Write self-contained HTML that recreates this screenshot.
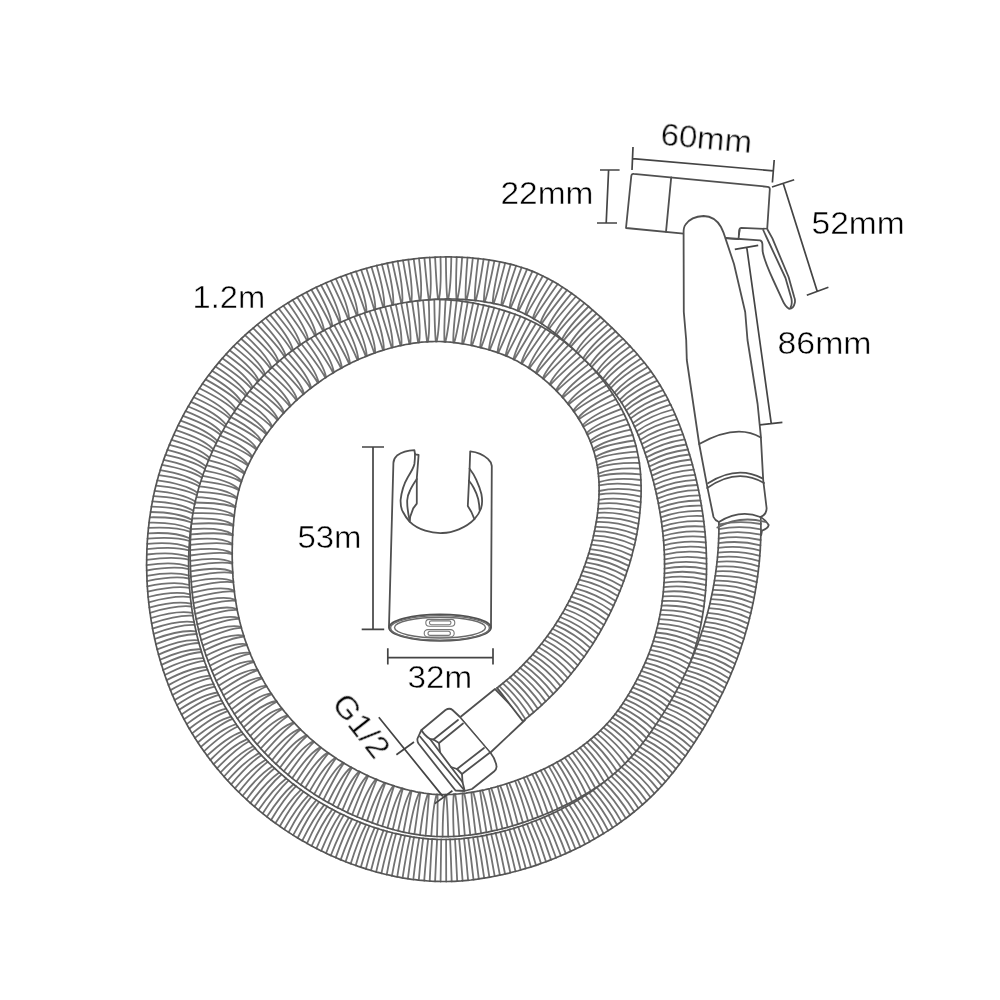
<!DOCTYPE html>
<html lang="en"><head><meta charset="utf-8"><title>Bidet sprayer dimensions</title>
<style>
html,body{margin:0;padding:0;background:#fff;}
body{width:1000px;height:1000px;overflow:hidden;}
svg{display:block;}
svg text{font-family:"Liberation Sans",sans-serif;fill:#000;stroke:#fff;stroke-width:0.45px;}
</style></head><body>
<svg width="1000" height="1000" viewBox="0 0 1000 1000">
<rect width="1000" height="1000" fill="#fff"/>
<g fill="none" stroke="#505050" stroke-width="1.8" stroke-linecap="round" stroke-linejoin="round">

<g>
<path fill="#fff" d="M417.5 738.5 L420 733 L421.5 730 L445.5 710 Q449.5 707.5 452.5 710 L460 717 L466 724 L490 752 Q495.5 759 496.5 766 Q497 769 494 771.5 L472 789 L464.5 791 L455.5 790.5 L418.5 743.5 Q417 741 417.5 738.5Z"/>
<path d="M420 736.5 L464.5 790.5"/>
<path d="M421.5 730 Q424 735 430 739 L433.5 739.5 L458 720"/>
<path d="M433.5 739.5 L439 743 L463 723.5"/>
<path d="M430 739 L439 751 L451 767 L462.5 782 L464.5 790"/>
<path d="M439 743 L440 752"/>
<path d="M451 767 L457 769 L484 748"/>
<path d="M457 769 L462 774 L490 752.5"/>
<path d="M462 774 L462.5 782"/>
<path fill="#fff" d="M461 716.5 L495 689 L525 720 L491 752"/>
</g>

<path fill="#fff" stroke="none" d="M497.1 687.9 L499.3 686.2 L501.4 684.5 L503.6 682.7 L505.7 680.9 L507.8 679.1 L509.9 677.3 L512 675.5 L514 673.6 L516 671.7 L518 669.8 L520 667.8 L522 665.9 L523.9 663.9 L525.8 661.9 L527.7 659.9 L529.6 657.8 L531.5 655.8 L533.3 653.7 L535.1 651.6 L536.9 649.4 L538.7 647.3 L540.4 645.1 L542.1 642.9 L543.8 640.7 L545.5 638.5 L547.2 636.3 L548.8 634 L550.4 631.8 L552 629.5 L553.6 627.2 L555.1 624.9 L556.6 622.5 L558.1 620.2 L559.6 617.8 L561 615.4 L562.5 613 L563.9 610.6 L565.2 608.2 L566.6 605.7 L567.9 603.3 L569.2 600.8 L570.5 598.3 L571.7 595.8 L573 593.3 L574.2 590.8 L575.4 588.3 L576.5 585.7 L577.7 583.2 L578.8 580.6 L579.9 578 L580.9 575.4 L581.9 572.8 L583 570.2 L583.9 567.6 L584.9 565 L585.8 562.4 L586.7 559.7 L587.6 557.1 L588.4 554.4 L589.3 551.8 L590 549.1 L590.8 546.4 L591.5 543.8 L592.2 541.1 L592.9 538.4 L593.5 535.7 L594.1 533 L594.7 530.3 L595.2 527.6 L595.7 524.9 L596.2 522.2 L596.7 519.5 L597.1 516.8 L597.4 514.1 L597.8 511.4 L598.1 508.7 L598.3 506 L598.5 503.3 L598.7 500.6 L598.9 497.9 L599 495.2 L599.1 492.5 L599.1 489.8 L599.1 487.1 L599.1 484.5 L599 481.9 L598.8 479.2 L598.6 476.6 L598.4 474.1 L598.1 471.5 L597.8 468.9 L597.4 466.4 L596.9 463.9 L596.5 461.5 L595.9 459 L595.3 456.5 L594.6 454.1 L593.9 451.6 L593.1 449.2 L592.3 446.8 L591.4 444.3 L590.5 441.9 L589.5 439.5 L588.5 437.2 L587.4 434.8 L586.3 432.5 L585.2 430.1 L583.9 427.8 L582.7 425.5 L581.4 423.2 L580 421 L578.6 418.7 L577.2 416.5 L575.7 414.3 L574.2 412.1 L572.7 410 L571.1 407.8 L569.5 405.7 L567.8 403.6 L566.1 401.6 L564.4 399.5 L562.6 397.5 L560.9 395.5 L559 393.6 L557.2 391.6 L555.3 389.7 L553.4 387.8 L551.4 386 L549.5 384.2 L547.5 382.4 L545.4 380.6 L543.4 378.9 L541.3 377.2 L539.2 375.5 L537.1 373.9 L535 372.3 L532.8 370.8 L530.7 369.3 L528.5 367.8 L526.3 366.4 L524 365 L521.8 363.7 L519.5 362.4 L517.2 361.1 L514.9 360 L512.6 358.8 L510.2 357.7 L507.9 356.6 L505.5 355.6 L503 354.6 L500.6 353.7 L498.1 352.8 L495.6 351.9 L493 351.1 L490.4 350.3 L487.8 349.5 L485.2 348.8 L482.6 348.1 L479.9 347.4 L477.2 346.8 L474.5 346.1 L471.9 345.5 L469.2 345 L466.5 344.5 L463.8 344 L461.1 343.6 L458.4 343.2 L455.8 342.8 L453.1 342.5 L450.5 342.2 L447.8 342 L445.2 341.8 L442.6 341.6 L440 341.5 L437.4 341.5 L434.8 341.5 L432.1 341.6 L429.5 341.7 L426.9 341.8 L424.2 342 L421.6 342.2 L418.9 342.5 L416.3 342.8 L413.6 343.2 L411 343.6 L408.3 344.1 L405.7 344.5 L403 345.1 L400.3 345.6 L397.7 346.2 L395 346.9 L392.4 347.5 L389.8 348.2 L387.2 349 L384.5 349.7 L381.9 350.6 L379.3 351.4 L376.7 352.3 L374.2 353.2 L371.6 354.1 L369 355.1 L366.5 356.1 L364 357.2 L361.4 358.2 L358.9 359.3 L356.4 360.5 L353.9 361.6 L351.5 362.8 L349 364 L346.6 365.3 L344.1 366.6 L341.7 367.9 L339.3 369.2 L336.9 370.6 L334.5 372 L332.2 373.4 L329.8 374.9 L327.5 376.4 L325.2 377.9 L322.9 379.4 L320.7 381 L318.4 382.6 L316.2 384.2 L314 385.8 L311.8 387.5 L309.6 389.2 L307.5 390.9 L305.4 392.6 L303.3 394.4 L301.2 396.2 L299.1 398 L297.1 399.9 L295 401.7 L293.1 403.6 L291.1 405.5 L289.1 407.5 L287.2 409.4 L285.3 411.4 L283.4 413.4 L281.6 415.4 L279.8 417.5 L278 419.5 L276.2 421.6 L274.5 423.7 L272.8 425.9 L271.1 428 L269.4 430.2 L267.8 432.4 L266.2 434.6 L264.6 436.8 L263.1 439.1 L261.6 441.4 L260.1 443.6 L258.6 446 L257.2 448.3 L255.8 450.6 L254.5 453 L253.1 455.3 L251.8 457.7 L250.6 460.1 L249.4 462.5 L248.2 465 L247.1 467.4 L246 469.8 L244.9 472.2 L244 474.7 L243 477.1 L242.1 479.6 L241.3 482 L240.5 484.5 L239.7 486.9 L239 489.4 L238.4 491.9 L237.8 494.5 L237.2 497.1 L236.7 499.7 L236.2 502.3 L235.7 505 L235.3 507.7 L234.9 510.4 L234.6 513.1 L234.2 515.8 L233.9 518.6 L233.7 521.4 L233.4 524.2 L233.2 527 L233 529.8 L232.8 532.7 L232.7 535.5 L232.5 538.3 L232.4 541.1 L232.3 544 L232.3 546.8 L232.2 549.6 L232.2 552.5 L232.2 555.3 L232.2 558.1 L232.3 560.9 L232.3 563.8 L232.4 566.6 L232.6 569.4 L232.7 572.2 L232.9 575 L233 577.9 L233.3 580.6 L233.5 583.4 L233.8 586.2 L234.1 589 L234.4 591.8 L234.7 594.5 L235.1 597.3 L235.5 600.1 L236 602.8 L236.4 605.5 L236.9 608.3 L237.4 611 L238 613.7 L238.6 616.4 L239.2 619.1 L239.8 621.7 L240.5 624.4 L241.2 627.1 L241.9 629.7 L242.7 632.3 L243.5 635 L244.3 637.6 L245.2 640.2 L246.1 642.8 L247 645.4 L248 647.9 L249 650.5 L250 653.1 L251 655.6 L252.1 658.1 L253.2 660.7 L254.4 663.2 L255.5 665.7 L256.7 668.1 L258 670.6 L259.2 673 L260.5 675.5 L261.8 677.9 L263.2 680.3 L264.5 682.7 L265.9 685.1 L267.3 687.4 L268.8 689.7 L270.3 692.1 L271.8 694.4 L273.3 696.6 L274.9 698.9 L276.5 701.1 L278.1 703.4 L279.7 705.6 L281.4 707.7 L283.1 709.9 L284.8 712 L286.6 714.1 L288.3 716.2 L290.1 718.3 L291.9 720.4 L293.8 722.4 L295.7 724.4 L297.6 726.4 L299.5 728.3 L301.4 730.3 L303.4 732.2 L305.4 734.1 L307.4 735.9 L309.4 737.8 L311.5 739.6 L313.6 741.4 L315.7 743.2 L317.8 744.9 L319.9 746.6 L322.1 748.3 L324.3 750 L326.5 751.6 L328.7 753.2 L331 754.8 L333.2 756.3 L335.5 757.9 L337.8 759.4 L340.1 760.8 L342.5 762.3 L344.8 763.7 L347.2 765.1 L349.6 766.4 L352 767.8 L354.5 769.1 L356.9 770.4 L359.4 771.6 L361.8 772.8 L364.3 774 L366.8 775.2 L369.4 776.4 L371.9 777.5 L374.4 778.6 L377 779.6 L379.6 780.7 L382.1 781.7 L384.7 782.7 L387.3 783.6 L390 784.5 L392.6 785.4 L395.2 786.3 L397.8 787.1 L400.4 787.9 L403 788.6 L405.6 789.4 L408.3 790 L410.9 790.7 L413.5 791.2 L416.1 791.8 L418.7 792.3 L421.3 792.7 L423.9 793.2 L426.5 793.5 L429.1 793.8 L431.7 794.1 L434.2 794.3 L436.8 794.5 L439.4 794.6 L442 794.6 L444.6 794.6 L447.2 794.6 L449.9 794.5 L452.6 794.4 L455.2 794.2 L457.9 794 L460.6 793.7 L463.3 793.4 L465.9 793.1 L468.6 792.7 L471.3 792.3 L474 791.9 L476.7 791.4 L479.4 790.9 L482 790.3 L484.7 789.8 L487.4 789.1 L490.1 788.5 L492.7 787.8 L495.4 787.1 L498.1 786.3 L500.7 785.5 L503.4 784.7 L506.1 783.9 L508.7 783 L511.4 782.1 L514 781.2 L516.6 780.3 L519.3 779.3 L520.7 778.8 L535.6 818 L534 818.6 L531 819.8 L528 820.8 L525 821.9 L521.9 822.9 L518.9 823.9 L515.8 824.9 L512.7 825.8 L509.6 826.7 L506.5 827.6 L503.4 828.4 L500.3 829.2 L497.1 830 L493.9 830.7 L490.8 831.4 L487.6 832.1 L484.4 832.7 L481.1 833.3 L477.9 833.8 L474.6 834.3 L471.4 834.8 L468.1 835.2 L464.8 835.5 L461.5 835.8 L458.2 836.1 L454.9 836.3 L451.6 836.5 L448.2 836.6 L444.9 836.6 L441.5 836.6 L438.1 836.5 L434.7 836.4 L431.3 836.2 L427.8 835.9 L424.5 835.6 L421.1 835.2 L417.7 834.7 L414.4 834.2 L411.1 833.6 L407.8 833 L404.6 832.3 L401.3 831.6 L398.1 830.8 L394.9 830 L391.7 829.1 L388.6 828.2 L385.4 827.2 L382.3 826.3 L379.2 825.3 L376.2 824.2 L373.1 823.1 L370.1 822 L367.1 820.9 L364.1 819.7 L361.1 818.5 L358.1 817.3 L355.1 816 L352.2 814.7 L349.2 813.4 L346.3 812 L343.4 810.6 L340.5 809.1 L337.6 807.7 L334.7 806.2 L331.9 804.6 L329.1 803.1 L326.2 801.5 L323.4 799.8 L320.6 798.1 L317.9 796.4 L315.1 794.7 L312.4 792.9 L309.7 791.1 L307 789.3 L304.4 787.4 L301.7 785.5 L299.1 783.6 L296.5 781.6 L293.9 779.6 L291.4 777.6 L288.9 775.5 L286.4 773.4 L283.9 771.3 L281.5 769.1 L279.1 766.9 L276.7 764.7 L274.3 762.5 L272 760.2 L269.7 757.9 L267.4 755.6 L265.1 753.2 L262.9 750.9 L260.7 748.5 L258.6 746 L256.4 743.6 L254.3 741.1 L252.3 738.6 L250.2 736 L248.2 733.5 L246.2 730.9 L244.3 728.3 L242.4 725.6 L240.5 723 L238.6 720.3 L236.8 717.6 L235 714.9 L233.3 712.1 L231.6 709.4 L229.9 706.6 L228.2 703.8 L226.6 701 L225 698.2 L223.5 695.3 L222 692.4 L220.5 689.5 L219 686.6 L217.6 683.7 L216.2 680.8 L214.9 677.8 L213.6 674.9 L212.3 671.9 L211.1 668.9 L209.9 665.8 L208.7 662.8 L207.6 659.8 L206.5 656.7 L205.4 653.6 L204.4 650.5 L203.4 647.4 L202.4 644.3 L201.5 641.2 L200.7 638.1 L199.8 634.9 L199 631.8 L198.3 628.6 L197.5 625.4 L196.9 622.3 L196.2 619.1 L195.6 615.9 L195 612.7 L194.5 609.6 L194 606.4 L193.5 603.2 L193.1 600 L192.7 596.8 L192.3 593.6 L192 590.4 L191.7 587.3 L191.4 584.1 L191.2 580.9 L190.9 577.7 L190.8 574.5 L190.6 571.3 L190.5 568.2 L190.4 565 L190.3 561.8 L190.2 558.7 L190.2 555.5 L190.2 552.3 L190.2 549.2 L190.3 546 L190.3 542.8 L190.4 539.7 L190.6 536.5 L190.7 533.3 L190.9 530.1 L191.1 527 L191.3 523.8 L191.6 520.6 L191.9 517.5 L192.2 514.3 L192.5 511.1 L192.9 507.9 L193.3 504.7 L193.8 501.4 L194.3 498.2 L194.8 494.9 L195.4 491.7 L196.1 488.4 L196.8 485.1 L197.6 481.8 L198.5 478.5 L199.4 475.3 L200.4 472 L201.4 468.7 L202.5 465.5 L203.7 462.3 L204.9 459.2 L206.2 456 L207.5 453 L208.9 449.9 L210.3 446.9 L211.7 443.9 L213.2 441 L214.8 438 L216.3 435.2 L217.9 432.3 L219.5 429.4 L221.2 426.6 L222.9 423.8 L224.7 421.1 L226.4 418.3 L228.3 415.6 L230.1 412.9 L232 410.2 L233.9 407.6 L235.9 404.9 L237.8 402.3 L239.9 399.8 L241.9 397.2 L244 394.7 L246.1 392.2 L248.2 389.8 L250.4 387.3 L252.6 384.9 L254.8 382.5 L257.1 380.2 L259.3 377.9 L261.7 375.6 L264 373.3 L266.4 371.1 L268.7 368.8 L271.2 366.7 L273.6 364.5 L276.1 362.4 L278.5 360.3 L281.1 358.3 L283.6 356.2 L286.2 354.2 L288.7 352.3 L291.4 350.3 L294 348.4 L296.6 346.5 L299.3 344.7 L302 342.9 L304.7 341.1 L307.5 339.4 L310.2 337.6 L313 336 L315.8 334.3 L318.6 332.7 L321.4 331.1 L324.3 329.6 L327.2 328 L330.1 326.6 L333 325.1 L335.9 323.7 L338.8 322.3 L341.8 321 L344.8 319.7 L347.8 318.4 L350.8 317.2 L353.8 316 L356.9 314.8 L359.9 313.7 L363 312.6 L366.1 311.5 L369.2 310.5 L372.4 309.6 L375.5 308.6 L378.6 307.7 L381.8 306.9 L385 306.1 L388.2 305.3 L391.4 304.6 L394.6 303.9 L397.8 303.3 L401.1 302.7 L404.3 302.1 L407.6 301.6 L410.9 301.2 L414.2 300.8 L417.5 300.4 L420.8 300.1 L424.2 299.9 L427.5 299.7 L430.9 299.6 L434.3 299.5 L437.7 299.5 L441.1 299.6 L444.4 299.7 L447.8 299.9 L451.2 300.1 L454.5 300.4 L457.8 300.7 L461.1 301.1 L464.4 301.6 L467.7 302.1 L470.9 302.6 L474.1 303.2 L477.3 303.8 L480.5 304.5 L483.7 305.1 L486.9 305.9 L490 306.6 L493.2 307.4 L496.3 308.3 L499.5 309.2 L502.6 310.1 L505.8 311.1 L508.9 312.1 L512.1 313.2 L515.2 314.3 L518.4 315.5 L521.5 316.8 L524.6 318.1 L527.7 319.5 L530.8 321 L533.9 322.5 L536.9 324 L539.9 325.7 L542.8 327.3 L545.7 329.1 L548.6 330.8 L551.5 332.7 L554.3 334.5 L557 336.4 L559.7 338.4 L562.4 340.4 L565.1 342.4 L567.7 344.5 L570.3 346.6 L572.8 348.7 L575.3 350.9 L577.8 353.1 L580.2 355.4 L582.6 357.7 L584.9 360 L587.3 362.4 L589.6 364.7 L591.8 367.2 L594.1 369.6 L596.2 372.2 L598.4 374.7 L600.5 377.3 L602.6 379.9 L604.6 382.5 L606.6 385.2 L608.6 387.9 L610.5 390.7 L612.3 393.5 L614.1 396.3 L615.9 399.2 L617.6 402.1 L619.3 405 L620.9 407.9 L622.5 410.9 L624 414 L625.5 417 L626.9 420.1 L628.3 423.3 L629.6 426.4 L630.8 429.6 L632 432.9 L633.1 436.1 L634.1 439.4 L635.1 442.7 L636 446 L636.8 449.4 L637.5 452.8 L638.2 456.2 L638.8 459.6 L639.4 463 L639.8 466.4 L640.2 469.8 L640.5 473.2 L640.7 476.6 L640.9 480 L641 483.3 L641.1 486.7 L641.1 490 L641.1 493.3 L641 496.6 L640.8 499.9 L640.7 503.2 L640.4 506.5 L640.1 509.8 L639.8 513 L639.5 516.3 L639.1 519.5 L638.6 522.8 L638.2 526 L637.6 529.2 L637.1 532.4 L636.5 535.6 L635.8 538.8 L635.2 542 L634.5 545.2 L633.7 548.3 L632.9 551.4 L632.1 554.6 L631.3 557.7 L630.4 560.8 L629.5 563.9 L628.5 567 L627.5 570 L626.5 573.1 L625.5 576.1 L624.4 579.2 L623.3 582.2 L622.2 585.2 L621 588.2 L619.9 591.1 L618.6 594.1 L617.4 597.1 L616.1 600 L614.8 602.9 L613.5 605.8 L612.2 608.7 L610.8 611.6 L609.4 614.5 L607.9 617.4 L606.4 620.2 L605 623.1 L603.4 625.9 L601.9 628.7 L600.3 631.5 L598.7 634.3 L597 637 L595.4 639.8 L593.7 642.5 L592 645.2 L590.2 647.9 L588.4 650.6 L586.6 653.2 L584.8 655.9 L582.9 658.5 L581 661.1 L579.1 663.7 L577.2 666.3 L575.2 668.8 L573.2 671.3 L571.2 673.8 L569.2 676.3 L567.1 678.8 L565 681.2 L562.8 683.7 L560.7 686.1 L558.5 688.4 L556.3 690.8 L554.1 693.1 L551.8 695.4 L549.5 697.7 L547.2 700 L544.9 702.2 L542.5 704.4 L540.2 706.6 L537.8 708.7 L535.3 710.9 L532.9 713 L530.4 715 L527.9 717.1 L525.4 719.1 L522.8 721.1Z"/>
<path stroke="#727272" stroke-width="1.8" d="M525.4 719.1Q514.4 701 499.3 686.2M529.6 715.7Q518.3 697.8 502.9 683.3M533.7 712.3Q522.1 694.5 506.4 680.3M537.8 708.7Q525.9 691.2 509.9 677.3M541.7 705.1Q529.6 687.7 513.3 674.2M545.7 701.4Q533.3 684.2 516.7 671.1M549.5 697.7Q536.9 680.7 520 667.8M553.3 693.9Q540.4 677.1 523.3 664.6M557 690Q543.8 673.4 526.5 661.2M560.7 686.1Q547.2 669.6 529.6 657.8M564.3 682Q550.6 665.8 532.7 654.4M567.8 678Q553.8 662 535.7 650.9M571.2 673.8Q557 658 538.7 647.3M574.6 669.7Q560.1 654.1 541.6 643.7M577.8 665.4Q563.1 650 544.4 640M581 661.1Q566.1 646 547.2 636.3M584.2 656.8Q569 641.8 549.9 632.5M587.2 652.4Q571.8 637.7 552.5 628.7M590.2 647.9Q574.6 633.4 555.1 624.9M593.1 643.4Q577.3 629.2 557.6 620.9M595.9 638.9Q579.9 624.9 560.1 617M598.7 634.3Q582.4 620.5 562.5 613M601.3 629.6Q584.9 616.1 564.8 609M603.9 625Q587.2 611.7 567 604.9M606.4 620.2Q589.6 607.2 569.2 600.8M608.9 615.5Q591.8 602.7 571.3 596.7M611.2 610.7Q594 598.2 573.4 592.5M613.5 605.8Q596 593.6 575.4 588.3M615.7 601Q598 589 577.3 584M617.8 596.1Q600 584.3 579.1 579.7M619.9 591.1Q601.8 579.7 580.9 575.4M621.8 586.2Q603.6 575 582.6 571.1M623.7 581.2Q605.3 570.2 584.3 566.7M625.5 576.1Q607 565.5 585.8 562.4M627.2 571.1Q608.5 560.7 587.3 558M628.8 565.9Q610 555.9 588.7 553.5M630.4 560.8Q611.3 551.1 590 549.1M631.8 555.6Q612.6 546.2 591.3 544.7M633.2 550.4Q613.8 541.3 592.4 540.2M634.5 545.2Q614.9 536.4 593.5 535.7M635.6 539.9Q615.6 531.4 594.5 531.2M636.7 534.6Q616.5 526.5 595.4 526.8M637.6 529.2Q616.5 521.4 596.3 522M638.5 523.8Q617.2 516.6 596.9 517.8M639.2 518.5Q617 511.3 597.6 512.8M639.8 513Q617.5 506.6 598 508.9M640.3 507.6Q617.1 501.3 598.5 503.7M640.7 502.1Q617.3 496.6 598.8 499.9M641 496.6Q616.7 491.4 599 494.5M641.1 491.1Q616.7 486.8 599.1 491M641.1 485.6Q615.8 481.6 599.1 485.4M640.9 480Q615.5 477 599 482.2M640.6 474.3Q614.3 471.9 598.6 476.5M640.1 468.7Q613.7 467.4 598.3 473.6M639.4 463Q612.2 462.5 597.6 467.9M638.4 457.3Q611.3 458.1 597.2 465.2M637.3 451.6Q609.4 453.4 596 459.4M636 446Q608.3 449.1 595.4 457M634.4 440.5Q606.1 444.5 593.8 451.1M632.7 435Q604.6 440.3 593.1 448.9M630.8 429.6Q602.1 436 590.9 442.9M628.7 424.3Q600.4 431.9 590.1 440.9M626.5 419.1Q597.7 427.8 587.5 434.8M624 414Q595.6 423.7 586.6 433.1M621.5 408.9Q592.8 419.9 583.5 426.9M618.8 404Q590.5 415.9 582.6 425.4M615.9 399.2Q588 411.9 579 419.3M612.9 394.4Q585.5 408 578.2 418M609.8 389.8Q582.8 404.2 574 411.8M606.6 385.2Q580 400.4 573.2 410.7M603.3 380.8Q577.1 396.7 568.6 404.7M599.8 376.4Q574.2 393.1 567.9 403.7M596.2 372.2Q571.1 389.6 562.8 397.8M592.6 368Q567.9 386.1 562.1 397M588.8 363.9Q564.7 382.8 556.7 391.2M584.9 360Q561.3 379.5 556 390.5M581 356.1Q557.9 376.2 550.3 384.9M576.9 352.4Q554.4 373.1 549.6 384.3M572.8 348.7Q550.9 370.1 543.5 379M568.5 345.2Q547.2 367.1 542.8 378.4M564.2 341.7Q543.6 364.3 536.5 373.5M559.7 338.4Q539.8 361.5 535.8 372.9M555.2 335.2Q536 358.9 529.3 368.4M550.5 332Q532.1 356.4 528.6 367.9M545.7 329.1Q528.1 354 521.9 363.8M540.9 326.2Q524.1 351.7 521.2 363.3M535.9 323.5Q520.1 349.6 514.3 359.6M530.8 321Q516 347.6 513.5 359.3M525.7 318.6Q511.8 345.7 506.4 356M520.5 316.4Q507.5 344 505.6 355.7M515.2 314.3Q503.2 342.4 498.2 352.9M510 312.5Q498.8 340.8 497.4 352.6M504.7 310.7Q494.4 339.4 489.7 350.1M499.5 309.2Q489.9 338.1 488.9 349.8M494.2 307.7Q485.4 336.9 481 347.7M489 306.4Q480.8 335.7 480.1 347.4M483.7 305.1Q476.2 334.7 472 345.6M478.4 304Q471.5 333.7 471.1 345.4M473.1 303Q466.9 332.8 463.1 343.9M467.7 302.1Q462.3 332 462.2 343.7M462.2 301.3Q457.6 331.4 454.2 342.6M456.7 300.6Q453 330.8 453.3 342.5M451.2 300.1Q448.4 330.4 445.4 341.8M445.6 299.7Q443.8 330.1 444.5 341.7M439.9 299.5Q439.3 330 436.7 341.5M434.3 299.5Q434.7 330 435.8 341.5M428.7 299.7Q430.1 330.1 427.9 341.7M423.1 300Q425.5 330.3 427.1 341.8M417.5 300.4Q420.9 330.7 419.1 342.5M412 301Q416.3 331.2 418.2 342.6M406.5 301.8Q411.6 331.8 410.3 343.7M401.1 302.7Q407 332.6 409.4 343.9M395.7 303.7Q402.4 333.4 401.4 345.4M390.3 304.8Q397.8 334.4 400.5 345.6M385 306.1Q393.3 335.4 392.6 347.5M379.7 307.4Q388.7 336.6 391.7 347.7M374.4 308.9Q384.2 337.8 383.8 350M369.2 310.5Q379.7 339.2 383 350.2M364.1 312.2Q375.2 340.6 375.2 352.8M358.9 314Q370.7 342.2 374.3 353.1M353.8 316Q366.3 343.8 366.7 356M348.8 318Q361.9 345.5 365.8 356.4M343.8 320.1Q357.5 347.3 358.3 359.6M338.8 322.3Q353.2 349.2 357.4 360M333.9 324.6Q348.9 351.2 350 363.6M329.1 327Q344.6 353.3 349.2 364M324.3 329.6Q340.4 355.5 341.9 367.8M319.5 332.2Q336.2 357.7 341.1 368.3M314.9 334.9Q332.1 360 333.9 372.4M310.2 337.6Q328 362.4 333.1 372.9M305.6 340.5Q324 364.9 326.1 377.3M301.1 343.5Q320 367.5 325.4 377.8M296.6 346.5Q316 370.1 318.6 382.5M292.2 349.7Q312.1 372.8 317.8 383M287.9 352.9Q308.3 375.6 311.2 387.9M283.6 356.2Q304.5 378.5 310.5 388.5M279.4 359.6Q300.8 381.4 304.1 393.7M275.2 363.1Q297.1 384.5 303.4 394.3M271.2 366.7Q293.5 387.5 297.2 399.7M267.1 370.3Q290 390.7 296.5 400.4M263.2 374Q286.5 393.9 290.6 406M259.3 377.9Q283 397.2 289.9 406.7M255.6 381.7Q279.7 400.6 284.2 412.6M251.9 385.7Q276.4 404 283.6 413.3M248.2 389.8Q273.2 407.5 278.1 419.4M244.7 393.9Q270 411 277.5 420.1M241.2 398.1Q267 414.7 272.3 426.4M237.8 402.3Q264 418.3 271.7 427.2M234.6 406.7Q261 422.1 266.8 433.7M231.4 411.1Q258.2 425.9 266.3 434.5M228.3 415.6Q255.4 429.7 261.7 441.2M225.3 420.1Q252.8 433.7 261.2 442M222.3 424.8Q250.2 437.6 256.8 448.9M219.5 429.4Q247.7 441.7 256.4 449.7M216.8 434.2Q245.3 445.7 252.4 456.8M214.2 439Q242.9 449.9 251.9 457.6M211.7 443.9Q240.7 454 248.3 464.8M209.4 448.9Q238.6 458.3 247.9 465.6M207.1 454Q236.6 462.5 244.7 472.9M204.9 459.2Q234.7 466.8 244.3 473.7M202.9 464.4Q232.9 471.1 241.6 481M201.1 469.8Q231.3 475.5 241.3 481.9M199.4 475.3Q229.8 479.9 239.1 489.3M197.9 480.7Q228.4 484.3 238.9 490.1M196.6 486.2Q227.2 488.8 237.1 497.8M195.4 491.7Q226.1 493.4 236.9 498.6M194.5 497.1Q225.2 498.1 235.5 506.6M193.6 502.5Q224.4 502.8 235.3 507.5M192.9 507.9Q223.6 507.5 234.3 515.7M192.3 513.2Q223 512.3 234.2 516.6M191.8 518.5Q222.5 517.1 233.4 525M191.3 523.8Q222 522 233.3 525.9M190.9 529.1Q221.6 526.8 232.7 534.4M190.7 534.4Q221.3 531.7 232.7 535.3M190.4 539.7Q221 536.5 232.3 543.8M190.3 544.9Q220.8 541.4 232.3 544.7M190.2 550.2Q220.7 546.3 232.2 553.2M190.2 555.5Q220.6 551.1 232.2 554.1M190.3 560.8Q220.6 556 232.3 562.6M190.4 566.1Q220.7 560.9 232.3 563.6M190.6 571.3Q220.8 565.8 232.7 572.1M190.9 576.6Q221 570.6 232.7 573M191.2 581.9Q221.3 575.5 233.3 581.4M191.7 587.3Q221.6 580.3 233.4 582.3M192.2 592.6Q222 585.2 234.3 590.7M192.8 597.9Q222.5 590 234.4 591.6M193.5 603.2Q223.1 594.8 235.5 599.9M194.3 608.5Q223.7 599.6 235.6 600.8M195.2 613.8Q224.5 604.4 237 609M196.2 619.1Q225.3 609.2 237.2 609.9M197.3 624.4Q226.2 613.9 238.9 618M198.5 629.7Q227.2 618.6 239.1 618.9M199.8 634.9Q228.3 623.4 241.1 626.9M201.2 640.2Q229.5 628 241.4 627.8M202.8 645.4Q230.7 632.7 243.7 635.7M204.4 650.5Q232.1 637.3 244 636.5M206.1 655.7Q233.6 642 246.6 644.3M207.9 660.8Q235.1 646.5 246.9 645.2M209.9 665.8Q236.8 651.1 249.9 652.9M211.9 670.9Q238.5 655.6 250.3 653.7M214 675.8Q240.4 660.1 253.5 661.3M216.2 680.8Q242.3 664.5 253.9 662.2M218.6 685.7Q244.3 669 257.5 669.6M221 690.5Q246.4 673.3 257.9 670.4M223.5 695.3Q248.6 677.7 261.7 677.7M226.1 700.1Q250.8 682 262.2 678.5M228.8 704.7Q253.2 686.2 266.3 685.7M231.6 709.4Q255.6 690.4 266.8 686.5M234.4 714Q258.2 694.6 271.2 693.4M237.4 718.5Q260.8 698.7 271.7 694.2M240.5 723Q263.4 702.7 276.4 701M243.6 727.4Q266.2 706.7 276.9 701.7M246.9 731.7Q269.1 710.6 281.8 708.3M250.2 736Q272 714.5 282.4 709M253.6 740.2Q275 718.3 287.6 715.4M257.1 744.4Q278.1 722.1 288.2 716.1M260.7 748.5Q281.3 725.8 293.7 722.3M264.4 752.5Q284.5 729.4 294.3 722.9M268.1 756.4Q287.8 733 300 728.9M272 760.2Q291.2 736.4 300.6 729.5M275.9 764Q294.7 739.9 306.6 735.2M279.9 767.7Q298.2 743.2 307.3 735.8M283.9 771.3Q301.8 746.5 313.4 741.3M288 774.8Q305.5 749.7 314.1 741.9M292.2 778.2Q309.2 752.8 320.5 747.1M296.5 781.6Q313 755.9 321.2 747.6M300.8 784.8Q316.9 758.9 327.8 752.6M305.2 788Q320.8 761.8 328.6 753.1M309.7 791.1Q324.8 764.6 335.4 757.8M314.2 794.1Q328.9 767.3 336.1 758.3M318.8 797Q333 770 343.1 762.6M323.4 799.8Q337.1 772.5 343.9 763.1M328.1 802.5Q341.3 775 351.1 767.2M332.8 805.1Q345.6 777.4 351.9 767.7M337.6 807.7Q349.9 779.7 359.2 771.5M342.4 810.1Q354.2 782 360 771.9M347.3 812.4Q358.6 784.1 367.5 775.5M352.2 814.7Q363.1 786.2 368.3 775.9M357.1 816.8Q367.5 788.2 376 779.2M362.1 818.9Q372.1 790.1 376.8 779.6M367.1 820.9Q376.6 791.9 384.6 782.6M372.1 822.8Q381.2 793.7 385.4 782.9M377.2 824.6Q385.8 795.3 393.3 785.7M382.3 826.3Q390.4 796.9 394.1 785.9M387.5 827.9Q395.1 798.4 402 788.3M392.8 829.4Q399.8 799.7 402.9 788.6M398.1 830.8Q404.5 801 410.7 790.6M403.5 832Q409.2 802.1 411.6 790.8M408.9 833.2Q414 803.1 419.4 792.4M414.4 834.2Q418.7 804 420.3 792.6M420 835Q423.5 804.8 428 793.7M425.6 835.7Q428.3 805.4 428.9 793.8M431.3 836.2Q433.1 805.8 436.6 794.4M437 836.5Q437.9 806.1 437.5 794.5M442.6 836.6Q442.8 806.2 445.2 794.6M448.2 836.6Q447.6 806.1 446.2 794.6M453.8 836.4Q452.5 805.9 453.8 794.3M459.3 836Q457.3 805.6 455.2 794.2M464.8 835.5Q462.2 805.2 462.6 793.5M470.3 834.9Q467 804.6 464.2 793.3M475.7 834.1Q471.9 804.1 471.4 792.3M481.1 833.3Q476.7 803.4 473.2 792M486.5 832.3Q481.7 803.2 480.1 790.7M491.8 831.2Q486.4 802.2 482.2 790.3M497.1 830Q491.6 801.8 488.9 788.8M502.4 828.7Q496.1 800.7 491.2 788.2M507.6 827.3Q501.3 800 497.7 786.4M512.7 825.8Q505.8 798.7 500.2 785.7M517.9 824.2Q511.1 797.9 506.4 783.8M522.9 822.6Q515.5 796.4 509.1 782.9M528 820.8Q520.7 795.4 515.1 780.8M533 819Q525.1 793.8 517.9 779.8"/>
<path stroke="#555" stroke-width="1.7" d="M497.1 687.9 L499.3 686.2 L501.4 684.5 L503.6 682.7 L505.7 680.9 L507.8 679.1 L509.9 677.3 L512 675.5 L514 673.6 L516 671.7 L518 669.8 L520 667.8 L522 665.9 L523.9 663.9 L525.8 661.9 L527.7 659.9 L529.6 657.8 L531.5 655.8 L533.3 653.7 L535.1 651.6 L536.9 649.4 L538.7 647.3 L540.4 645.1 L542.1 642.9 L543.8 640.7 L545.5 638.5 L547.2 636.3 L548.8 634 L550.4 631.8 L552 629.5 L553.6 627.2 L555.1 624.9 L556.6 622.5 L558.1 620.2 L559.6 617.8 L561 615.4 L562.5 613 L563.9 610.6 L565.2 608.2 L566.6 605.7 L567.9 603.3 L569.2 600.8 L570.5 598.3 L571.7 595.8 L573 593.3 L574.2 590.8 L575.4 588.3 L576.5 585.7 L577.7 583.2 L578.8 580.6 L579.9 578 L580.9 575.4 L581.9 572.8 L583 570.2 L583.9 567.6 L584.9 565 L585.8 562.4 L586.7 559.7 L587.6 557.1 L588.4 554.4 L589.3 551.8 L590 549.1 L590.8 546.4 L591.5 543.8 L592.2 541.1 L592.9 538.4 L593.5 535.7 L594.1 533 L594.7 530.3 L595.2 527.6 L595.7 524.9 L596.2 522.2 L596.7 519.5 L597.1 516.8 L597.4 514.1 L597.8 511.4 L598.1 508.7 L598.3 506 L598.5 503.3 L598.7 500.6 L598.9 497.9 L599 495.2 L599.1 492.5 L599.1 489.8 L599.1 487.1 L599.1 484.5 L599 481.9 L598.8 479.2 L598.6 476.6 L598.4 474.1 L598.1 471.5 L597.8 468.9 L597.4 466.4 L596.9 463.9 L596.5 461.5 L595.9 459 L595.3 456.5 L594.6 454.1 L593.9 451.6 L593.1 449.2 L592.3 446.8 L591.4 444.3 L590.5 441.9 L589.5 439.5 L588.5 437.2 L587.4 434.8 L586.3 432.5 L585.2 430.1 L583.9 427.8 L582.7 425.5 L581.4 423.2 L580 421 L578.6 418.7 L577.2 416.5 L575.7 414.3 L574.2 412.1 L572.7 410 L571.1 407.8 L569.5 405.7 L567.8 403.6 L566.1 401.6 L564.4 399.5 L562.6 397.5 L560.9 395.5 L559 393.6 L557.2 391.6 L555.3 389.7 L553.4 387.8 L551.4 386 L549.5 384.2 L547.5 382.4 L545.4 380.6 L543.4 378.9 L541.3 377.2 L539.2 375.5 L537.1 373.9 L535 372.3 L532.8 370.8 L530.7 369.3 L528.5 367.8 L526.3 366.4 L524 365 L521.8 363.7 L519.5 362.4 L517.2 361.1 L514.9 360 L512.6 358.8 L510.2 357.7 L507.9 356.6 L505.5 355.6 L503 354.6 L500.6 353.7 L498.1 352.8 L495.6 351.9 L493 351.1 L490.4 350.3 L487.8 349.5 L485.2 348.8 L482.6 348.1 L479.9 347.4 L477.2 346.8 L474.5 346.1 L471.9 345.5 L469.2 345 L466.5 344.5 L463.8 344 L461.1 343.6 L458.4 343.2 L455.8 342.8 L453.1 342.5 L450.5 342.2 L447.8 342 L445.2 341.8 L442.6 341.6 L440 341.5 L437.4 341.5 L434.8 341.5 L432.1 341.6 L429.5 341.7 L426.9 341.8 L424.2 342 L421.6 342.2 L418.9 342.5 L416.3 342.8 L413.6 343.2 L411 343.6 L408.3 344.1 L405.7 344.5 L403 345.1 L400.3 345.6 L397.7 346.2 L395 346.9 L392.4 347.5 L389.8 348.2 L387.2 349 L384.5 349.7 L381.9 350.6 L379.3 351.4 L376.7 352.3 L374.2 353.2 L371.6 354.1 L369 355.1 L366.5 356.1 L364 357.2 L361.4 358.2 L358.9 359.3 L356.4 360.5 L353.9 361.6 L351.5 362.8 L349 364 L346.6 365.3 L344.1 366.6 L341.7 367.9 L339.3 369.2 L336.9 370.6 L334.5 372 L332.2 373.4 L329.8 374.9 L327.5 376.4 L325.2 377.9 L322.9 379.4 L320.7 381 L318.4 382.6 L316.2 384.2 L314 385.8 L311.8 387.5 L309.6 389.2 L307.5 390.9 L305.4 392.6 L303.3 394.4 L301.2 396.2 L299.1 398 L297.1 399.9 L295 401.7 L293.1 403.6 L291.1 405.5 L289.1 407.5 L287.2 409.4 L285.3 411.4 L283.4 413.4 L281.6 415.4 L279.8 417.5 L278 419.5 L276.2 421.6 L274.5 423.7 L272.8 425.9 L271.1 428 L269.4 430.2 L267.8 432.4 L266.2 434.6 L264.6 436.8 L263.1 439.1 L261.6 441.4 L260.1 443.6 L258.6 446 L257.2 448.3 L255.8 450.6 L254.5 453 L253.1 455.3 L251.8 457.7 L250.6 460.1 L249.4 462.5 L248.2 465 L247.1 467.4 L246 469.8 L244.9 472.2 L244 474.7 L243 477.1 L242.1 479.6 L241.3 482 L240.5 484.5 L239.7 486.9 L239 489.4 L238.4 491.9 L237.8 494.5 L237.2 497.1 L236.7 499.7 L236.2 502.3 L235.7 505 L235.3 507.7 L234.9 510.4 L234.6 513.1 L234.2 515.8 L233.9 518.6 L233.7 521.4 L233.4 524.2 L233.2 527 L233 529.8 L232.8 532.7 L232.7 535.5 L232.5 538.3 L232.4 541.1 L232.3 544 L232.3 546.8 L232.2 549.6 L232.2 552.5 L232.2 555.3 L232.2 558.1 L232.3 560.9 L232.3 563.8 L232.4 566.6 L232.6 569.4 L232.7 572.2 L232.9 575 L233 577.9 L233.3 580.6 L233.5 583.4 L233.8 586.2 L234.1 589 L234.4 591.8 L234.7 594.5 L235.1 597.3 L235.5 600.1 L236 602.8 L236.4 605.5 L236.9 608.3 L237.4 611 L238 613.7 L238.6 616.4 L239.2 619.1 L239.8 621.7 L240.5 624.4 L241.2 627.1 L241.9 629.7 L242.7 632.3 L243.5 635 L244.3 637.6 L245.2 640.2 L246.1 642.8 L247 645.4 L248 647.9 L249 650.5 L250 653.1 L251 655.6 L252.1 658.1 L253.2 660.7 L254.4 663.2 L255.5 665.7 L256.7 668.1 L258 670.6 L259.2 673 L260.5 675.5 L261.8 677.9 L263.2 680.3 L264.5 682.7 L265.9 685.1 L267.3 687.4 L268.8 689.7 L270.3 692.1 L271.8 694.4 L273.3 696.6 L274.9 698.9 L276.5 701.1 L278.1 703.4 L279.7 705.6 L281.4 707.7 L283.1 709.9 L284.8 712 L286.6 714.1 L288.3 716.2 L290.1 718.3 L291.9 720.4 L293.8 722.4 L295.7 724.4 L297.6 726.4 L299.5 728.3 L301.4 730.3 L303.4 732.2 L305.4 734.1 L307.4 735.9 L309.4 737.8 L311.5 739.6 L313.6 741.4 L315.7 743.2 L317.8 744.9 L319.9 746.6 L322.1 748.3 L324.3 750 L326.5 751.6 L328.7 753.2 L331 754.8 L333.2 756.3 L335.5 757.9 L337.8 759.4 L340.1 760.8 L342.5 762.3 L344.8 763.7 L347.2 765.1 L349.6 766.4 L352 767.8 L354.5 769.1 L356.9 770.4 L359.4 771.6 L361.8 772.8 L364.3 774 L366.8 775.2 L369.4 776.4 L371.9 777.5 L374.4 778.6 L377 779.6 L379.6 780.7 L382.1 781.7 L384.7 782.7 L387.3 783.6 L390 784.5 L392.6 785.4 L395.2 786.3 L397.8 787.1 L400.4 787.9 L403 788.6 L405.6 789.4 L408.3 790 L410.9 790.7 L413.5 791.2 L416.1 791.8 L418.7 792.3 L421.3 792.7 L423.9 793.2 L426.5 793.5 L429.1 793.8 L431.7 794.1 L434.2 794.3 L436.8 794.5 L439.4 794.6 L442 794.6 L444.6 794.6 L447.2 794.6 L449.9 794.5 L452.6 794.4 L455.2 794.2 L457.9 794 L460.6 793.7 L463.3 793.4 L465.9 793.1 L468.6 792.7 L471.3 792.3 L474 791.9 L476.7 791.4 L479.4 790.9 L482 790.3 L484.7 789.8 L487.4 789.1 L490.1 788.5 L492.7 787.8 L495.4 787.1 L498.1 786.3 L500.7 785.5 L503.4 784.7 L506.1 783.9 L508.7 783 L511.4 782.1 L514 781.2 L516.6 780.3 L519.3 779.3 L520.7 778.8"/>
<path stroke="#555" stroke-width="1.7" d="M522.8 721.1 L525.4 719.1 L527.9 717.1 L530.4 715 L532.9 713 L535.3 710.9 L537.8 708.7 L540.2 706.6 L542.5 704.4 L544.9 702.2 L547.2 700 L549.5 697.7 L551.8 695.4 L554.1 693.1 L556.3 690.8 L558.5 688.4 L560.7 686.1 L562.8 683.7 L565 681.2 L567.1 678.8 L569.2 676.3 L571.2 673.8 L573.2 671.3 L575.2 668.8 L577.2 666.3 L579.1 663.7 L581 661.1 L582.9 658.5 L584.8 655.9 L586.6 653.2 L588.4 650.6 L590.2 647.9 L592 645.2 L593.7 642.5 L595.4 639.8 L597 637 L598.7 634.3 L600.3 631.5 L601.9 628.7 L603.4 625.9 L605 623.1 L606.4 620.2 L607.9 617.4 L609.4 614.5 L610.8 611.6 L612.2 608.7 L613.5 605.8 L614.8 602.9 L616.1 600 L617.4 597.1 L618.6 594.1 L619.9 591.1 L621 588.2 L622.2 585.2 L623.3 582.2 L624.4 579.2 L625.5 576.1 L626.5 573.1 L627.5 570 L628.5 567 L629.5 563.9 L630.4 560.8 L631.3 557.7 L632.1 554.6 L632.9 551.4 L633.7 548.3 L634.5 545.2 L635.2 542 L635.8 538.8 L636.5 535.6 L637.1 532.4 L637.6 529.2 L638.2 526 L638.6 522.8 L639.1 519.5 L639.5 516.3 L639.8 513 L640.1 509.8 L640.4 506.5 L640.7 503.2 L640.8 499.9 L641 496.6 L641.1 493.3 L641.1 490 L641.1 486.7 L641 483.3 L640.9 480 L640.7 476.6 L640.5 473.2 L640.2 469.8 L639.8 466.4 L639.4 463 L638.8 459.6 L638.2 456.2 L637.5 452.8 L636.8 449.4 L636 446 L635.1 442.7 L634.1 439.4 L633.1 436.1 L632 432.9 L630.8 429.6 L629.6 426.4 L628.3 423.3 L626.9 420.1 L625.5 417 L624 414 L622.5 410.9 L620.9 407.9 L619.3 405 L617.6 402.1 L615.9 399.2 L614.1 396.3 L612.3 393.5 L610.5 390.7 L608.6 387.9 L606.6 385.2 L604.6 382.5 L602.6 379.9 L600.5 377.3 L598.4 374.7 L596.2 372.2 L594.1 369.6 L591.8 367.2 L589.6 364.7 L587.3 362.4 L584.9 360 L582.6 357.7 L580.2 355.4 L577.8 353.1 L575.3 350.9 L572.8 348.7 L570.3 346.6 L567.7 344.5 L565.1 342.4 L562.4 340.4 L559.7 338.4 L557 336.4 L554.3 334.5 L551.5 332.7 L548.6 330.8 L545.7 329.1 L542.8 327.3 L539.9 325.7 L536.9 324 L533.9 322.5 L530.8 321 L527.7 319.5 L524.6 318.1 L521.5 316.8 L518.4 315.5 L515.2 314.3 L512.1 313.2 L508.9 312.1 L505.8 311.1 L502.6 310.1 L499.5 309.2 L496.3 308.3 L493.2 307.4 L490 306.6 L486.9 305.9 L483.7 305.1 L480.5 304.5 L477.3 303.8 L474.1 303.2 L470.9 302.6 L467.7 302.1 L464.4 301.6 L461.1 301.1 L457.8 300.7 L454.5 300.4 L451.2 300.1 L447.8 299.9 L444.4 299.7 L441.1 299.6 L437.7 299.5 L434.3 299.5 L430.9 299.6 L427.5 299.7 L424.2 299.9 L420.8 300.1 L417.5 300.4 L414.2 300.8 L410.9 301.2 L407.6 301.6 L404.3 302.1 L401.1 302.7 L397.8 303.3 L394.6 303.9 L391.4 304.6 L388.2 305.3 L385 306.1 L381.8 306.9 L378.6 307.7 L375.5 308.6 L372.4 309.6 L369.2 310.5 L366.1 311.5 L363 312.6 L359.9 313.7 L356.9 314.8 L353.8 316 L350.8 317.2 L347.8 318.4 L344.8 319.7 L341.8 321 L338.8 322.3 L335.9 323.7 L333 325.1 L330.1 326.6 L327.2 328 L324.3 329.6 L321.4 331.1 L318.6 332.7 L315.8 334.3 L313 336 L310.2 337.6 L307.5 339.4 L304.7 341.1 L302 342.9 L299.3 344.7 L296.6 346.5 L294 348.4 L291.4 350.3 L288.7 352.3 L286.2 354.2 L283.6 356.2 L281.1 358.3 L278.5 360.3 L276.1 362.4 L273.6 364.5 L271.2 366.7 L268.7 368.8 L266.4 371.1 L264 373.3 L261.7 375.6 L259.3 377.9 L257.1 380.2 L254.8 382.5 L252.6 384.9 L250.4 387.3 L248.2 389.8 L246.1 392.2 L244 394.7 L241.9 397.2 L239.9 399.8 L237.8 402.3 L235.9 404.9 L233.9 407.6 L232 410.2 L230.1 412.9 L228.3 415.6 L226.4 418.3 L224.7 421.1 L222.9 423.8 L221.2 426.6 L219.5 429.4 L217.9 432.3 L216.3 435.2 L214.8 438 L213.2 441 L211.7 443.9 L210.3 446.9 L208.9 449.9 L207.5 453 L206.2 456 L204.9 459.2 L203.7 462.3 L202.5 465.5 L201.4 468.7 L200.4 472 L199.4 475.3 L198.5 478.5 L197.6 481.8 L196.8 485.1 L196.1 488.4 L195.4 491.7 L194.8 494.9 L194.3 498.2 L193.8 501.4 L193.3 504.7 L192.9 507.9 L192.5 511.1 L192.2 514.3 L191.9 517.5 L191.6 520.6 L191.3 523.8 L191.1 527 L190.9 530.1 L190.7 533.3 L190.6 536.5 L190.4 539.7 L190.3 542.8 L190.3 546 L190.2 549.2 L190.2 552.3 L190.2 555.5 L190.2 558.7 L190.3 561.8 L190.4 565 L190.5 568.2 L190.6 571.3 L190.8 574.5 L190.9 577.7 L191.2 580.9 L191.4 584.1 L191.7 587.3 L192 590.4 L192.3 593.6 L192.7 596.8 L193.1 600 L193.5 603.2 L194 606.4 L194.5 609.6 L195 612.7 L195.6 615.9 L196.2 619.1 L196.9 622.3 L197.5 625.4 L198.3 628.6 L199 631.8 L199.8 634.9 L200.7 638.1 L201.5 641.2 L202.4 644.3 L203.4 647.4 L204.4 650.5 L205.4 653.6 L206.5 656.7 L207.6 659.8 L208.7 662.8 L209.9 665.8 L211.1 668.9 L212.3 671.9 L213.6 674.9 L214.9 677.8 L216.2 680.8 L217.6 683.7 L219 686.6 L220.5 689.5 L222 692.4 L223.5 695.3 L225 698.2 L226.6 701 L228.2 703.8 L229.9 706.6 L231.6 709.4 L233.3 712.1 L235 714.9 L236.8 717.6 L238.6 720.3 L240.5 723 L242.4 725.6 L244.3 728.3 L246.2 730.9 L248.2 733.5 L250.2 736 L252.3 738.6 L254.3 741.1 L256.4 743.6 L258.6 746 L260.7 748.5 L262.9 750.9 L265.1 753.2 L267.4 755.6 L269.7 757.9 L272 760.2 L274.3 762.5 L276.7 764.7 L279.1 766.9 L281.5 769.1 L283.9 771.3 L286.4 773.4 L288.9 775.5 L291.4 777.6 L293.9 779.6 L296.5 781.6 L299.1 783.6 L301.7 785.5 L304.4 787.4 L307 789.3 L309.7 791.1 L312.4 792.9 L315.1 794.7 L317.9 796.4 L320.6 798.1 L323.4 799.8 L326.2 801.5 L329.1 803.1 L331.9 804.6 L334.7 806.2 L337.6 807.7 L340.5 809.1 L343.4 810.6 L346.3 812 L349.2 813.4 L352.2 814.7 L355.1 816 L358.1 817.3 L361.1 818.5 L364.1 819.7 L367.1 820.9 L370.1 822 L373.1 823.1 L376.2 824.2 L379.2 825.3 L382.3 826.3 L385.4 827.2 L388.6 828.2 L391.7 829.1 L394.9 830 L398.1 830.8 L401.3 831.6 L404.6 832.3 L407.8 833 L411.1 833.6 L414.4 834.2 L417.7 834.7 L421.1 835.2 L424.5 835.6 L427.8 835.9 L431.3 836.2 L434.7 836.4 L438.1 836.5 L441.5 836.6 L444.9 836.6 L448.2 836.6 L451.6 836.5 L454.9 836.3 L458.2 836.1 L461.5 835.8 L464.8 835.5 L468.1 835.2 L471.4 834.8 L474.6 834.3 L477.9 833.8 L481.1 833.3 L484.4 832.7 L487.6 832.1 L490.8 831.4 L493.9 830.7 L497.1 830 L500.3 829.2 L503.4 828.4 L506.5 827.6 L509.6 826.7 L512.7 825.8 L515.8 824.9 L518.9 823.9 L521.9 822.9 L525 821.9 L528 820.8 L531 819.8 L534 818.6 L535.6 818"/>
<path fill="#fff" stroke="none" d="M520.7 778.8 L523.3 777.8 L525.9 776.7 L528.5 775.7 L531.1 774.6 L533.7 773.5 L536.3 772.4 L538.8 771.2 L541.4 770.1 L543.9 768.9 L546.4 767.7 L548.9 766.4 L551.3 765.2 L553.8 763.9 L556.2 762.6 L558.7 761.2 L561.1 759.9 L563.4 758.5 L565.8 757 L568.1 755.6 L570.4 754.1 L572.7 752.6 L575 751.1 L577.2 749.6 L579.5 748 L581.7 746.4 L583.8 744.8 L586 743.1 L588.1 741.5 L590.2 739.7 L592.2 738 L594.2 736.2 L596.2 734.5 L598.2 732.6 L600.1 730.8 L602 728.9 L603.9 727 L605.7 725.1 L607.5 723.2 L609.3 721.2 L611 719.2 L612.7 717.1 L614.4 715.1 L616 713 L617.6 710.8 L619.2 708.7 L620.7 706.5 L622.3 704.2 L623.8 701.9 L625.3 699.6 L626.8 697.3 L628.2 694.9 L629.7 692.6 L631.1 690.1 L632.5 687.7 L633.9 685.3 L635.2 682.8 L636.5 680.4 L637.8 677.9 L639.1 675.4 L640.4 672.9 L641.6 670.4 L642.8 667.9 L643.9 665.4 L645.1 662.9 L646.1 660.4 L647.2 657.9 L648.2 655.3 L649.2 652.8 L650.2 650.2 L651.1 647.6 L652 645.1 L652.9 642.5 L653.7 639.9 L654.5 637.2 L655.3 634.6 L656 632 L656.7 629.3 L657.4 626.6 L658.1 624 L658.7 621.3 L659.2 618.6 L659.8 615.9 L660.3 613.2 L660.8 610.5 L661.3 607.7 L661.7 605 L662.1 602.3 L662.4 599.5 L662.8 596.8 L663.1 594 L663.4 591.3 L663.6 588.5 L663.8 585.7 L664 583 L664.2 580.2 L664.3 577.4 L664.4 574.6 L664.5 571.8 L664.5 569 L664.6 566.2 L664.5 563.4 L664.5 560.6 L664.5 557.8 L664.4 555 L664.3 552.2 L664.1 549.4 L664 546.6 L663.8 543.8 L663.6 541 L663.3 538.2 L663.1 535.4 L662.8 532.6 L662.5 529.8 L662.1 527 L661.8 524.2 L661.4 521.4 L661 518.6 L660.5 515.8 L660.1 513 L659.6 510.2 L659.1 507.4 L658.6 504.6 L658.1 501.8 L657.5 499 L656.9 496.3 L656.3 493.5 L655.7 490.7 L655 487.9 L654.4 485.2 L653.7 482.4 L653 479.7 L652.2 476.9 L651.5 474.2 L650.7 471.4 L649.9 468.7 L649.1 465.9 L648.3 463.2 L647.5 460.5 L646.6 457.8 L645.7 455.1 L644.8 452.4 L643.9 449.8 L642.9 447.1 L642 444.5 L641 441.9 L640 439.3 L638.9 436.7 L637.9 434.1 L636.8 431.6 L635.7 429.1 L634.5 426.6 L633.4 424.1 L632.2 421.6 L631 419.2 L629.7 416.8 L628.4 414.4 L627.1 412 L625.8 409.7 L624.4 407.4 L623 405.1 L621.6 402.8 L620.1 400.6 L618.6 398.4 L617.1 396.2 L615.5 394.1 L613.9 391.9 L612.3 389.8 L610.6 387.7 L608.9 385.6 L607.1 383.5 L605.3 381.4 L603.5 379.3 L601.6 377.2 L599.7 375.2 L597.8 373.1 L595.8 371.1 L593.8 369 L591.8 367 L589.8 364.9 L587.8 362.9 L585.7 360.9 L583.6 358.8 L581.5 356.8 L579.4 354.8 L577.4 352.8 L575.3 350.9 L573.2 348.9 L571.1 347 L569 345.1 L566.8 343.2 L564.7 341.4 L562.6 339.6 L560.4 337.8 L558.3 336 L556.1 334.3 L554 332.5 L551.8 330.9 L549.6 329.2 L547.4 327.6 L545.2 326.1 L542.9 324.5 L540.7 323.1 L538.5 321.6 L536.2 320.2 L533.9 318.9 L531.6 317.5 L529.3 316.3 L527 315.1 L524.7 313.9 L522.4 312.8 L520.1 311.7 L517.7 310.7 L515.3 309.7 L513 308.8 L510.6 308 L508.1 307.2 L505.7 306.4 L503.2 305.7 L500.7 305 L498.1 304.4 L495.5 303.8 L492.9 303.3 L490.3 302.7 L487.6 302.3 L485 301.8 L482.3 301.4 L479.6 301 L476.8 300.7 L474.1 300.4 L471.3 300.1 L468.6 299.8 L465.8 299.6 L463.1 299.4 L460.3 299.3 L457.6 299.1 L454.8 299 L452.1 299 L449.3 298.9 L446.5 298.9 L443.8 299 L441 299 L438.2 299.1 L435.5 299.2 L432.7 299.4 L429.9 299.6 L427.2 299.8 L424.4 300 L421.7 300.3 L418.9 300.6 L416.1 300.9 L413.4 301.3 L410.6 301.7 L407.9 302.1 L405.2 302.5 L402.4 303 L399.7 303.5 L397 304.1 L394.3 304.6 L391.5 305.2 L388.8 305.9 L386.1 306.5 L383.4 307.2 L380.8 307.9 L378.1 308.6 L375.4 309.4 L372.7 310.2 L370.1 311 L367.4 311.9 L364.8 312.7 L362.2 313.7 L359.5 314.6 L356.9 315.5 L354.3 316.5 L351.7 317.5 L349.2 318.6 L346.6 319.7 L344 320.7 L341.5 321.9 L339 323 L336.4 324.2 L333.9 325.4 L331.4 326.6 L329 327.9 L326.5 329.1 L324 330.5 L321.6 331.8 L319.2 333.1 L316.8 334.5 L314.4 335.9 L312 337.4 L309.6 338.8 L307.3 340.3 L304.9 341.8 L302.6 343.3 L300.3 344.9 L298.1 346.5 L295.8 348.1 L293.6 349.7 L291.3 351.3 L289.1 353 L286.9 354.7 L284.8 356.4 L282.6 358.2 L280.5 359.9 L278.4 361.7 L276.3 363.6 L274.2 365.4 L272.2 367.2 L270.2 369.1 L268.2 371 L266.2 373 L264.2 374.9 L262.3 376.9 L260.4 378.9 L258.5 380.9 L256.6 382.9 L254.8 385 L253 387 L251.2 389.1 L249.4 391.3 L247.7 393.4 L246 395.6 L244.3 397.7 L242.6 399.9 L241 402.2 L239.3 404.4 L237.7 406.7 L236.1 409 L234.6 411.3 L233.1 413.6 L231.5 415.9 L230.1 418.3 L228.6 420.6 L227.2 423 L225.7 425.4 L224.4 427.8 L223 430.3 L221.6 432.7 L220.3 435.2 L219 437.6 L217.7 440.1 L216.5 442.6 L215.3 445.1 L214.1 447.7 L212.9 450.2 L211.7 452.8 L210.6 455.3 L209.5 457.9 L208.4 460.5 L207.4 463.1 L206.3 465.7 L205.3 468.3 L204.4 470.9 L203.4 473.5 L202.5 476.1 L201.6 478.7 L200.8 481.4 L199.9 484 L199.1 486.6 L198.4 489.3 L197.7 491.9 L197 494.6 L196.3 497.3 L195.6 500 L195 502.7 L194.4 505.4 L193.9 508.1 L193.4 510.8 L192.9 513.6 L192.4 516.3 L192 519.1 L191.6 521.8 L191.2 524.6 L190.8 527.3 L190.5 530.1 L190.2 532.9 L189.9 535.7 L189.7 538.4 L189.5 541.2 L189.3 544 L189.1 546.8 L189 549.6 L188.8 552.4 L188.8 555.2 L188.7 558.1 L188.6 560.9 L188.6 563.7 L188.6 566.5 L188.7 569.3 L188.7 572.1 L188.8 574.9 L188.9 577.7 L189.1 580.5 L189.2 583.4 L189.4 586.2 L189.6 589 L189.9 591.8 L190.1 594.6 L190.4 597.4 L190.7 600.1 L191.1 602.9 L191.4 605.7 L191.8 608.5 L192.2 611.3 L192.7 614 L193.1 616.8 L193.6 619.6 L194.2 622.3 L194.7 625.1 L195.3 627.8 L195.9 630.5 L196.5 633.3 L197.1 636 L197.8 638.7 L198.5 641.4 L199.2 644.1 L200 646.8 L200.8 649.5 L201.6 652.2 L202.4 654.8 L203.2 657.5 L204.1 660.1 L205 662.8 L206 665.4 L206.9 668 L207.9 670.6 L208.9 673.2 L210 675.8 L211 678.3 L212.1 680.9 L213.3 683.4 L214.4 686 L215.6 688.5 L216.8 691 L218 693.5 L219.2 695.9 L220.5 698.4 L221.8 700.8 L223.2 703.3 L224.5 705.7 L225.9 708.1 L227.3 710.4 L228.8 712.8 L230.2 715.2 L231.7 717.5 L233.2 719.8 L234.8 722.1 L236.3 724.4 L237.9 726.7 L239.6 728.9 L241.2 731.2 L242.9 733.4 L244.6 735.6 L246.3 737.8 L248 739.9 L249.8 742.1 L251.6 744.2 L253.4 746.3 L255.2 748.4 L257 750.5 L258.9 752.6 L260.8 754.6 L262.7 756.6 L264.7 758.6 L266.6 760.6 L268.6 762.6 L270.6 764.5 L272.6 766.4 L274.7 768.3 L276.7 770.2 L278.8 772.1 L280.9 773.9 L283 775.7 L285.1 777.5 L287.3 779.3 L289.5 781.1 L291.6 782.8 L293.8 784.5 L296.1 786.2 L298.3 787.9 L300.6 789.5 L302.8 791.1 L305.1 792.7 L307.4 794.3 L309.7 795.9 L312.1 797.4 L314.4 798.9 L316.8 800.4 L319.1 801.9 L321.5 803.3 L323.9 804.7 L326.4 806.1 L328.8 807.5 L331.2 808.8 L333.7 810.1 L336.2 811.4 L338.7 812.7 L341.2 813.9 L343.7 815.1 L346.2 816.3 L348.7 817.5 L351.3 818.6 L353.8 819.7 L356.4 820.8 L358.9 821.8 L361.5 822.9 L364.1 823.9 L366.7 824.8 L369.3 825.8 L372 826.7 L374.6 827.6 L377.2 828.4 L379.9 829.3 L382.5 830.1 L385.2 830.8 L387.9 831.6 L390.6 832.3 L393.2 833 L395.9 833.6 L398.6 834.2 L401.3 834.8 L404 835.4 L406.7 835.9 L409.4 836.4 L412.1 836.9 L414.8 837.3 L417.5 837.7 L420.2 838 L422.9 838.3 L425.6 838.6 L428.3 838.9 L431 839.1 L433.7 839.2 L436.4 839.4 L439.1 839.5 L441.8 839.5 L444.5 839.5 L447.2 839.5 L449.9 839.4 L452.6 839.3 L455.3 839.2 L458 839 L460.7 838.8 L463.4 838.5 L466.1 838.2 L468.9 837.9 L471.6 837.5 L474.3 837.2 L477.1 836.7 L479.8 836.3 L482.5 835.8 L485.3 835.3 L488 834.7 L490.8 834.2 L493.5 833.6 L496.2 832.9 L498.9 832.3 L501.7 831.6 L504.4 830.9 L507.1 830.2 L509.8 829.4 L512.4 828.7 L515.1 827.9 L517.8 827 L520.4 826.2 L523.1 825.3 L524.9 824.7 L538.6 864.4 L536.6 865.1 L533.5 866.1 L530.5 867.1 L527.4 868 L524.4 868.9 L521.3 869.8 L518.2 870.7 L515.1 871.5 L512 872.3 L508.9 873.1 L505.8 873.8 L502.6 874.6 L499.5 875.2 L496.4 875.9 L493.2 876.5 L490.1 877.1 L486.9 877.7 L483.7 878.2 L480.5 878.7 L477.3 879.2 L474.1 879.6 L470.9 880 L467.6 880.3 L464.4 880.6 L461.1 880.9 L457.8 881.1 L454.5 881.3 L451.2 881.4 L447.9 881.5 L444.6 881.5 L441.3 881.5 L438 881.4 L434.7 881.3 L431.4 881.2 L428.1 881 L424.9 880.7 L421.6 880.4 L418.3 880.1 L415.1 879.7 L411.8 879.3 L408.6 878.8 L405.4 878.3 L402.1 877.8 L398.9 877.2 L395.7 876.6 L392.6 875.9 L389.4 875.2 L386.2 874.5 L383.1 873.7 L380 872.9 L376.8 872.1 L373.7 871.2 L370.6 870.3 L367.5 869.4 L364.5 868.4 L361.4 867.4 L358.3 866.4 L355.3 865.3 L352.3 864.3 L349.3 863.1 L346.2 862 L343.3 860.8 L340.3 859.6 L337.3 858.3 L334.4 857 L331.4 855.7 L328.5 854.4 L325.6 853 L322.7 851.6 L319.8 850.2 L317 848.7 L314.1 847.3 L311.3 845.7 L308.5 844.2 L305.7 842.6 L302.9 841 L300.1 839.4 L297.3 837.8 L294.6 836.1 L291.9 834.4 L289.2 832.6 L286.5 830.9 L283.8 829.1 L281.2 827.3 L278.6 825.4 L276 823.6 L273.4 821.7 L270.8 819.8 L268.2 817.8 L265.7 815.8 L263.2 813.8 L260.7 811.8 L258.2 809.8 L255.8 807.7 L253.3 805.6 L250.9 803.5 L248.5 801.4 L246.2 799.2 L243.8 797 L241.5 794.8 L239.2 792.5 L236.9 790.3 L234.6 788 L232.4 785.7 L230.2 783.3 L228 781 L225.8 778.6 L223.7 776.2 L221.6 773.8 L219.5 771.3 L217.4 768.9 L215.4 766.4 L213.4 763.9 L211.4 761.3 L209.4 758.8 L207.5 756.2 L205.6 753.6 L203.7 751 L201.8 748.3 L200 745.7 L198.2 743 L196.4 740.3 L194.7 737.6 L193 734.8 L191.3 732.1 L189.7 729.3 L188 726.5 L186.5 723.7 L184.9 720.8 L183.4 718 L181.9 715.1 L180.4 712.2 L179 709.3 L177.6 706.4 L176.2 703.5 L174.9 700.6 L173.6 697.6 L172.3 694.7 L171.1 691.7 L169.9 688.7 L168.7 685.7 L167.6 682.7 L166.5 679.7 L165.4 676.7 L164.4 673.6 L163.3 670.6 L162.4 667.5 L161.4 664.5 L160.5 661.4 L159.6 658.3 L158.7 655.2 L157.9 652.1 L157.1 649 L156.3 645.9 L155.6 642.8 L154.9 639.7 L154.2 636.5 L153.5 633.4 L152.9 630.3 L152.3 627.1 L151.8 624 L151.2 620.8 L150.7 617.7 L150.3 614.5 L149.8 611.4 L149.4 608.2 L149 605 L148.7 601.8 L148.3 598.7 L148 595.5 L147.8 592.3 L147.5 589.1 L147.3 586 L147.1 582.8 L147 579.6 L146.9 576.4 L146.8 573.2 L146.7 570 L146.6 566.8 L146.6 563.7 L146.7 560.5 L146.7 557.3 L146.8 554.1 L146.9 550.9 L147 547.7 L147.2 544.5 L147.3 541.3 L147.6 538.1 L147.8 535 L148.1 531.8 L148.4 528.6 L148.8 525.4 L149.1 522.2 L149.5 519 L150 515.8 L150.5 512.6 L151 509.5 L151.5 506.3 L152.1 503.1 L152.7 500 L153.3 496.8 L154 493.6 L154.7 490.5 L155.5 487.3 L156.3 484.2 L157.1 481.1 L158 477.9 L158.8 474.8 L159.8 471.7 L160.7 468.6 L161.7 465.5 L162.8 462.5 L163.8 459.4 L164.9 456.4 L166.1 453.4 L167.2 450.4 L168.4 447.4 L169.6 444.4 L170.8 441.5 L172.1 438.6 L173.4 435.6 L174.7 432.7 L176.1 429.8 L177.4 426.9 L178.8 424 L180.3 421.2 L181.7 418.3 L183.2 415.5 L184.7 412.7 L186.3 409.8 L187.9 407 L189.5 404.3 L191.1 401.5 L192.8 398.7 L194.4 396 L196.2 393.3 L197.9 390.6 L199.7 387.9 L201.5 385.2 L203.3 382.6 L205.2 379.9 L207.1 377.3 L209 374.7 L211 372.2 L213 369.6 L215 367.1 L217 364.6 L219.1 362.1 L221.2 359.6 L223.3 357.2 L225.5 354.7 L227.7 352.3 L229.9 350 L232.1 347.6 L234.4 345.3 L236.7 343 L239 340.8 L241.4 338.5 L243.8 336.3 L246.1 334.2 L248.6 332 L251 329.9 L253.5 327.8 L256 325.7 L258.5 323.7 L261 321.7 L263.5 319.7 L266.1 317.7 L268.7 315.8 L271.3 313.9 L274 312.1 L276.6 310.2 L279.3 308.4 L282 306.6 L284.7 304.9 L287.4 303.2 L290.2 301.5 L292.9 299.8 L295.7 298.2 L298.5 296.6 L301.3 295 L304.1 293.5 L307 292 L309.8 290.5 L312.7 289 L315.6 287.6 L318.5 286.2 L321.4 284.9 L324.4 283.5 L327.3 282.2 L330.3 281 L333.2 279.7 L336.2 278.5 L339.2 277.3 L342.2 276.2 L345.3 275.1 L348.3 274 L351.3 273 L354.4 271.9 L357.5 271 L360.5 270 L363.6 269.1 L366.7 268.2 L369.8 267.4 L372.9 266.5 L376.1 265.7 L379.2 265 L382.3 264.3 L385.5 263.6 L388.6 262.9 L391.8 262.3 L395 261.7 L398.1 261.1 L401.3 260.6 L404.5 260.1 L407.7 259.7 L410.9 259.3 L414.1 258.9 L417.3 258.5 L420.5 258.2 L423.7 257.9 L427 257.7 L430.2 257.5 L433.4 257.3 L436.6 257.1 L439.9 257 L443.1 257 L446.3 256.9 L449.6 256.9 L452.8 257 L456 257.1 L459.3 257.2 L462.5 257.3 L465.7 257.5 L469 257.7 L472.2 258 L475.4 258.3 L478.7 258.6 L481.9 259 L485.1 259.4 L488.3 259.8 L491.6 260.3 L494.8 260.9 L498.1 261.5 L501.3 262.1 L504.6 262.8 L507.8 263.6 L511.1 264.4 L514.4 265.2 L517.7 266.2 L520.9 267.2 L524.2 268.3 L527.5 269.4 L530.7 270.6 L533.9 271.9 L537.1 273.3 L540.2 274.7 L543.3 276.2 L546.3 277.7 L549.3 279.3 L552.3 280.9 L555.2 282.6 L558.1 284.3 L560.9 286.1 L563.7 287.9 L566.5 289.7 L569.2 291.6 L571.9 293.5 L574.5 295.4 L577.1 297.4 L579.7 299.4 L582.3 301.4 L584.8 303.4 L587.3 305.4 L589.7 307.5 L592.1 309.6 L594.5 311.7 L596.9 313.8 L599.3 315.9 L601.6 318 L603.9 320.1 L606.2 322.3 L608.4 324.4 L610.7 326.6 L612.9 328.7 L615.1 330.9 L617.3 333.1 L619.5 335.3 L621.7 337.5 L623.9 339.7 L626.1 342 L628.3 344.3 L630.5 346.6 L632.6 349 L634.8 351.3 L636.9 353.8 L639 356.2 L641.1 358.7 L643.2 361.2 L645.3 363.8 L647.3 366.4 L649.3 369.1 L651.3 371.8 L653.2 374.5 L655.1 377.3 L656.9 380.1 L658.7 382.9 L660.4 385.7 L662.1 388.6 L663.7 391.4 L665.3 394.3 L666.9 397.2 L668.4 400.1 L669.8 403.1 L671.3 406 L672.7 409 L674 411.9 L675.3 414.9 L676.6 417.9 L677.8 420.8 L679 423.8 L680.2 426.8 L681.3 429.8 L682.4 432.8 L683.5 435.8 L684.5 438.8 L685.6 441.8 L686.5 444.9 L687.5 447.9 L688.4 450.9 L689.4 453.9 L690.3 456.9 L691.1 459.9 L692 463 L692.8 466 L693.6 469.1 L694.4 472.1 L695.2 475.2 L695.9 478.2 L696.6 481.3 L697.3 484.4 L698 487.5 L698.6 490.6 L699.3 493.7 L699.9 496.8 L700.4 499.9 L701 503 L701.5 506.1 L702 509.2 L702.5 512.4 L703 515.5 L703.4 518.7 L703.8 521.8 L704.2 525 L704.5 528.1 L704.9 531.3 L705.2 534.5 L705.4 537.6 L705.7 540.8 L705.9 544 L706.1 547.2 L706.2 550.4 L706.3 553.6 L706.4 556.7 L706.5 559.9 L706.5 563.1 L706.6 566.3 L706.5 569.6 L706.5 572.8 L706.4 576 L706.3 579.2 L706.1 582.4 L705.9 585.6 L705.7 588.8 L705.5 592 L705.2 595.2 L704.8 598.4 L704.5 601.6 L704.1 604.8 L703.7 608.1 L703.2 611.3 L702.7 614.4 L702.2 617.6 L701.6 620.8 L701 624 L700.4 627.2 L699.7 630.4 L698.9 633.5 L698.2 636.7 L697.4 639.9 L696.6 643 L695.7 646.1 L694.8 649.3 L693.8 652.4 L692.8 655.5 L691.8 658.6 L690.7 661.7 L689.6 664.7 L688.5 667.8 L687.3 670.8 L686 673.9 L684.8 676.9 L683.5 679.8 L682.2 682.8 L680.8 685.7 L679.4 688.7 L678 691.6 L676.6 694.4 L675.1 697.3 L673.6 700.1 L672.1 703 L670.5 705.8 L669 708.5 L667.4 711.3 L665.7 714.1 L664.1 716.8 L662.4 719.6 L660.7 722.3 L658.9 725 L657.1 727.7 L655.2 730.4 L653.3 733.1 L651.4 735.8 L649.4 738.5 L647.3 741.1 L645.2 743.7 L643.1 746.3 L640.9 748.9 L638.6 751.4 L636.4 753.8 L634.1 756.2 L631.7 758.6 L629.4 761 L627 763.3 L624.5 765.5 L622 767.7 L619.5 769.9 L617 772 L614.4 774.1 L611.9 776.2 L609.3 778.2 L606.6 780.2 L604 782.1 L601.3 784 L598.6 785.9 L595.9 787.7 L593.1 789.5 L590.4 791.2 L587.6 792.9 L584.8 794.6 L582 796.2 L579.2 797.8 L576.4 799.4 L573.5 800.9 L570.7 802.4 L567.8 803.9 L564.9 805.3 L562 806.8 L559.1 808.1 L556.2 809.5 L553.3 810.8 L550.4 812.1 L547.4 813.3 L544.5 814.5 L541.5 815.7 L538.6 816.9 L535.6 818Z"/>
<path stroke="#727272" stroke-width="1.8" d="M538 817.1Q530.3 792.5 523.7 777.6M542.9 815.2Q534.6 790.8 526.8 776.4M547.8 813.2Q539.8 789.4 532.2 774.1M552.7 811Q544.1 787.5 535.4 772.8M557.6 808.8Q549.2 786 540.6 770.4M562.4 806.6Q553.5 783.9 544 768.8M567.2 804.2Q558.5 782.2 548.9 766.4M572 801.7Q562.7 780 552.3 764.7M576.8 799.2Q567.7 778.1 556.9 762.2M581.5 796.6Q571.8 775.7 560.4 760.2M586.1 793.8Q576.6 773.5 564.8 757.7M590.8 791Q580.7 770.9 568.3 755.5M595.3 788Q585.2 768.3 572.5 752.8M599.9 785Q589.3 765.5 576 750.5M604.3 781.9Q593.6 762.7 579.9 747.7M608.7 778.6Q597.6 759.7 583.3 745.2M613.1 775.2Q601.8 756.8 587 742.3M617.3 771.8Q605.7 753.6 590.4 739.5M621.5 768.2Q609.7 750.5 593.8 736.6M625.7 764.5Q613.4 747 597.1 733.6M629.7 760.6Q617.1 743.6 600.4 730.6M633.6 756.7Q620.7 739.9 603.5 727.4M637.4 752.7Q624.1 736.2 606.6 724.2M641.2 748.5Q627.4 732.3 609.5 720.9M644.8 744.2Q630.6 728.4 612.4 717.6M648.3 739.9Q633.7 724.4 615.1 714.1M651.6 735.5Q636.7 720.3 617.8 710.6M654.8 731Q639.6 716.1 620.4 706.9M657.9 726.5Q642.4 711.9 623 703.2M660.9 721.9Q645.1 707.6 625.5 699.3M663.7 717.4Q647.7 703.3 627.9 695.4M666.5 712.8Q650.2 699 630.3 691.4M669.2 708.2Q652.7 694.6 632.7 687.4M671.8 703.5Q655.1 690.2 634.9 683.3M674.3 698.8Q657.5 685.7 637.2 679.2M676.8 694.1Q659.7 681.2 639.3 675.1M679.1 689.2Q661.9 676.7 641.3 670.9M681.4 684.4Q664 672.1 643.3 666.8M683.7 679.4Q666 667.5 645.2 662.6M685.8 674.5Q667.9 662.8 647 658.4M687.8 669.4Q669.7 658.1 648.7 654.1M689.8 664.3Q671.4 653.4 650.3 649.9M691.6 659.2Q673 648.6 651.8 645.6M693.3 654Q674.5 643.8 653.3 641.2M694.9 648.8Q675.9 639 654.6 636.9M696.4 643.6Q677.2 634.2 655.9 632.5M697.8 638.4Q678.4 629.3 657.1 628.1M699 633.1Q679.5 624.4 658.1 623.6M700.2 627.8Q680.5 619.5 659.1 619.1M701.3 622.5Q681.4 614.5 660 614.6M702.3 617.2Q682.3 609.6 660.9 610.1M703.1 611.9Q683 604.6 661.6 605.6M703.9 606.6Q683.6 599.7 662.2 601M704.5 601.2Q684.2 594.7 662.8 596.4M705.1 595.9Q684.6 589.7 663.3 591.8M705.6 590.5Q685 584.7 663.7 587.2M706 585.2Q685.3 579.7 664 582.6M706.2 579.8Q685.4 574.7 664.3 577.9M706.4 574.5Q685.6 569.7 664.4 573.3M706.5 569.1Q685.6 564.7 664.5 568.6M706.6 563.8Q685.5 559.7 664.6 564M706.5 558.5Q685.4 554.7 664.5 559.3M706.3 553.1Q685.2 549.7 664.4 554.7M706.1 547.8Q684.9 544.7 664.2 550M705.8 542.5Q684.5 539.7 663.9 545.3M705.4 537.2Q684.1 534.7 663.5 540.6M704.9 531.9Q683.6 529.8 663.1 536M704.4 526.7Q683 524.8 662.6 531.3M703.8 521.4Q682.4 519.9 662.1 526.6M703.1 516.1Q681.7 514.9 661.5 521.9M702.3 510.9Q680.9 510 660.8 517.3M701.5 505.7Q680.1 505.1 660 512.6M700.6 500.5Q679.2 500.2 659.2 508M699.6 495.3Q678.2 495.3 658.4 503.3M698.5 490.2Q677.2 490.4 657.4 498.7M697.4 485Q676.1 485.5 656.4 494M696.3 479.9Q674.9 480.7 655.4 489.4M695.1 474.8Q673.7 475.8 654.3 484.8M693.8 469.7Q672.4 471 653.1 480.2M692.4 464.6Q671.1 466.2 651.9 475.6M691 459.5Q669.7 461.4 650.6 471M689.5 454.5Q668.3 456.6 649.3 466.5M688 449.5Q666.6 451.9 647.9 461.9M686.4 444.5Q665.1 447.2 646.5 457.4M684.7 439.4Q663.1 442.6 644.9 452.9M683 434.4Q661.4 437.9 643.5 448.6M681.2 429.4Q659.3 433.3 641.8 444M679.3 424.4Q657.5 428.8 640.2 439.9M677.2 419.4Q655.1 424.3 638.3 435.3M675.1 414.5Q653.2 419.9 636.7 431.4M672.9 409.5Q650.6 415.4 634.6 426.8M670.6 404.6Q648.5 411.2 632.9 423.1M668.2 399.7Q645.5 406.9 630.6 418.4M665.6 394.9Q643.3 402.9 628.8 415.1M663 390.1Q640 398.8 626.2 410.4M660.2 385.3Q637.6 394.9 624.4 407.3M657.3 380.6Q634.2 390.9 621.4 402.6M654.2 376Q631.6 387.2 619.6 399.8M651 371.4Q628 383.4 616.3 395.2M647.7 367Q625.3 379.9 614.5 392.7M644.3 362.6Q621.6 376.3 610.8 388M640.9 358.4Q618.7 372.9 608.9 385.6M637.4 354.3Q614.8 369.4 604.9 380.9M633.8 350.2Q611.7 366 602.9 378.7M630.2 346.3Q607.8 362.7 598.5 373.9M626.6 342.4Q604.6 359.4 596.6 371.9M622.9 338.7Q600.5 356.1 591.8 367M619.2 335Q597.2 352.9 590 365.1M615.6 331.3Q593.1 349.7 584.9 360.1M611.9 327.7Q589.8 346.4 583.2 358.4M608.1 324.1Q585.8 343.2 577.9 353.3M604.4 320.6Q582.3 340 576.2 351.8M600.5 317Q578.4 336.9 570.8 346.8M596.6 313.5Q574.8 333.8 569.3 345.4M592.6 310Q570.8 330.9 563.7 340.5M588.6 306.5Q567.2 327.8 562.2 339.2M584.4 303.1Q563.2 325.1 556.5 334.5M580.2 299.8Q559.5 322.2 555 333.4M575.9 296.5Q555.7 319.4 549.1 328.9M571.5 293.3Q551.8 316.6 547.8 327.9M567 290.1Q547.9 314 541.7 323.7M562.4 287.1Q544 311.4 540.4 322.9M557.7 284.1Q540 309 534.1 319M552.8 281.3Q536 306.7 532.9 318.2M547.9 278.6Q531.9 304.6 526.4 314.7M542.8 276Q527.8 302.6 525.2 314.1M537.7 273.6Q523.7 300.7 518.5 311M532.4 271.3Q519.5 299 517.5 310.6M527 269.3Q515.3 297.4 510.5 308M521.6 267.4Q511 296 509.6 307.6M516.1 265.7Q506.6 294.7 502.3 305.5M510.7 264.2Q502.2 293.5 501.3 305.2M505.2 262.9Q497.7 292.5 493.7 303.4M499.8 261.8Q493.1 291.5 492.7 303.2M494.4 260.8Q488.5 290.7 484.8 301.8M489 259.9Q483.9 290 483.9 301.6M483.6 259.2Q479.2 289.3 475.7 300.6M478.2 258.6Q474.5 288.8 474.8 300.4M472.8 258Q469.8 288.3 466.6 299.7M467.5 257.6Q465.1 288 465.7 299.6M462.1 257.3Q460.3 287.7 457.4 299.1M456.7 257.1Q455.6 287.5 456.5 299.1M451.3 257Q450.9 287.4 448.2 298.9M445.9 256.9Q446.1 287.4 447.3 298.9M440.5 257Q441.4 287.5 439 299.1M435.1 257.2Q436.6 287.6 438 299.1M429.7 257.5Q431.9 287.9 429.7 299.6M424.4 257.9Q427.1 288.2 428.8 299.6M419 258.3Q422.4 288.6 420.5 300.4M413.7 258.9Q417.7 289.1 419.6 300.5M408.3 259.6Q413 289.7 411.4 301.6M403 260.4Q408.2 290.4 410.5 301.7M397.7 261.2Q403.5 291.1 402.2 303.1M392.4 262.2Q398.9 291.9 401.3 303.2M387.2 263.2Q394.2 292.9 393.2 304.9M381.9 264.4Q389.5 293.8 392.3 305.1M376.7 265.6Q384.9 294.9 384.2 307M371.5 266.9Q380.3 296.1 383.2 307.2M366.3 268.3Q375.7 297.3 375.3 309.4M361.1 269.8Q371.1 298.6 374.3 309.7M356 271.4Q366.5 300 366.5 312.2M350.9 273.1Q362 301.5 365.5 312.5M345.9 274.9Q357.5 303 357.7 315.3M340.8 276.7Q353 304.7 356.7 315.6M335.8 278.7Q348.6 306.4 349.1 318.6M330.9 280.7Q344.1 308.2 348.1 319M325.9 282.8Q339.7 310 340.6 322.3M321 285Q335.4 311.9 339.6 322.7M316.2 287.3Q331.1 314 332.3 326.2M311.4 289.7Q326.8 316 331.2 326.7M306.6 292.2Q322.5 318.2 324.1 330.4M301.9 294.7Q318.3 320.4 323 331M297.2 297.3Q314.1 322.7 316 334.9M292.6 300Q310 325.1 314.9 335.6M288 302.8Q305.9 327.5 308.2 339.7M283.4 305.7Q301.8 330 307 340.5M278.9 308.7Q297.8 332.6 300.5 344.8M274.5 311.7Q293.9 335.3 299.3 345.6M270.1 314.8Q290 338 293 350.1M265.8 318Q286.1 340.8 291.8 351M261.5 321.3Q282.3 343.7 285.7 355.7M257.3 324.6Q278.5 346.6 284.5 356.7M253.1 328.1Q274.8 349.6 278.6 361.6M249 331.6Q271.2 352.7 277.4 362.6M245 335.2Q267.6 355.8 271.7 367.7M241.1 338.8Q264.1 359 270.5 368.8M237.2 342.6Q260.6 362.3 265.1 374M233.4 346.4Q257.2 365.6 263.9 375.2M229.6 350.3Q253.8 369 258.8 380.6M225.9 354.3Q250.6 372.4 257.6 381.9M222.3 358.3Q247.3 375.9 252.7 387.4M218.8 362.4Q244.2 379.5 251.5 388.8M215.4 366.6Q240.9 383 246.9 394.4M212 370.8Q237.9 386.7 245.7 395.9M208.8 375.1Q234.7 390.3 241.3 401.7M205.6 379.4Q231.8 394.1 240.1 403.3M202.5 383.8Q228.7 397.9 236 409.2M199.5 388.3Q226 401.7 234.8 410.9M196.5 392.7Q223 405.7 230.9 416.9M193.7 397.3Q220.5 409.6 229.8 418.7M190.9 401.9Q217.6 413.7 226.1 424.8M188.2 406.5Q215.2 417.7 225 426.7M185.6 411.2Q212.5 421.9 221.6 432.8M183 415.9Q210.2 426 220.5 434.9M180.6 420.6Q207.6 430.3 217.3 441M178.2 425.4Q205.5 434.4 216.2 443.2M175.9 430.2Q203 438.9 213.3 449.4M173.7 435Q201 443.1 212.2 451.7M171.5 439.9Q198.7 447.6 209.5 457.9M169.4 444.8Q196.8 451.8 208.5 460.3M167.4 449.8Q194.6 456.5 206 466.4M165.5 454.8Q192.9 460.7 205.1 468.9M163.7 459.8Q190.9 465.5 202.8 475.1M161.9 464.9Q189.4 469.8 202 477.7M160.3 470.1Q187.6 474.6 200 483.8M158.7 475.2Q186.2 478.9 199.2 486.5M157.3 480.4Q184.6 483.9 197.5 492.7M155.9 485.7Q183.4 488.3 196.8 495.3M154.6 490.9Q182.1 493.3 195.3 501.6M153.5 496.2Q181.1 497.7 194.7 504.3M152.4 501.4Q180 502.8 193.4 510.7M151.4 506.7Q179.1 507.2 192.9 513.4M150.6 512Q178.1 512.3 191.9 519.8M149.8 517.3Q177.4 516.9 191.5 522.5M149.1 522.6Q176.7 522 190.6 529M148.5 527.9Q176.1 526.5 190.3 531.8M148 533.3Q175.5 531.7 189.7 538.3M147.5 538.6Q175.1 536.3 189.5 541M147.2 543.9Q174.7 541.5 189.1 547.6M146.9 549.2Q174.4 546 188.9 550.4M146.8 554.5Q174.2 551.3 188.7 556.9M146.7 559.8Q174 555.8 188.7 559.7M146.6 565.1Q173.9 561.1 188.6 566.3M146.7 570.5Q173.9 565.7 188.7 569.1M146.8 575.8Q174 570.9 188.9 575.7M147 581.1Q174.1 575.5 189 578.5M147.3 586.4Q174.3 580.7 189.3 585M147.7 591.7Q174.6 585.3 189.5 587.8M148.2 597Q175 590.5 190.1 594.4M148.7 602.3Q175.4 595.1 190.4 597.2M149.3 607.6Q175.9 600.3 191.2 603.7M150 612.8Q176.5 604.8 191.5 606.5M150.8 618.1Q177.2 610 192.5 612.9M151.7 623.4Q177.8 614.6 193 615.7M152.6 628.6Q178.7 619.7 194.1 622.1M153.6 633.8Q179.5 624.2 194.7 624.9M154.7 639Q180.6 629.4 196 631.3M155.9 644.2Q181.5 633.9 196.7 634M157.2 649.4Q182.7 639 198.2 640.3M158.6 654.6Q183.8 643.4 198.9 643M160 659.7Q185.2 648.5 200.7 649.3M161.5 664.9Q186.4 652.9 201.5 652M163.1 670Q187.9 657.9 203.5 658.2M164.8 675Q189.3 662.3 204.4 660.8M166.6 680.1Q191 667.3 206.5 667M168.5 685.1Q192.6 671.6 207.5 669.6M170.5 690.1Q194.4 676.5 209.9 675.6M172.5 695.1Q196.1 680.8 211 678.2M174.6 700Q198.1 685.6 213.6 684.1M176.9 704.9Q200 689.8 214.7 686.6M179.2 709.7Q202.2 694.6 217.5 692.5M181.6 714.5Q204.2 698.7 218.7 694.9M184.1 719.3Q206.5 703.4 221.7 700.7M186.7 724.1Q208.7 707.5 223.1 703.1M189.3 728.7Q211.2 712 226.3 708.7M192.1 733.4Q213.5 716 227.7 711.1M194.9 737.9Q216.2 720.5 231.1 716.6M197.9 742.5Q218.7 724.4 232.6 718.9M200.9 746.9Q221.5 728.8 236.2 724.2M203.9 751.3Q224.1 732.6 237.8 726.5M207.1 755.7Q227.2 736.9 241.6 731.8M210.3 760Q229.9 740.6 243.3 734M213.6 764.2Q233 744.9 247.3 739.1M217 768.4Q235.9 748.5 249.1 741.2M220.5 772.5Q239.1 752.7 253.2 746.2M224 776.5Q242.1 756.2 255.1 748.3M227.6 780.5Q245.5 760.2 259.4 753.1M231.2 784.4Q248.6 763.6 261.3 755.2M234.9 788.3Q252.1 767.6 265.8 759.7M238.7 792.1Q255.4 770.9 267.8 761.8M242.6 795.8Q259 774.7 272.4 766.2M246.5 799.5Q262.4 777.9 274.6 768.3M250.4 803.1Q266.1 781.7 279.2 772.5M254.5 806.6Q269.5 784.7 281.5 774.5M258.5 810.1Q273.4 788.4 286.2 778.5M262.7 813.4Q277 791.3 288.7 780.4M266.9 816.8Q281 794.8 293.5 784.2M271.1 820Q284.6 797.7 296 786.2M275.4 823.2Q288.7 801.1 300.9 789.8M279.8 826.3Q292.5 803.8 303.5 791.7M284.2 829.3Q296.7 807 308.5 795.1M288.6 832.3Q300.6 809.6 311.3 796.9M293.2 835.2Q305 812.7 316.3 800.1M297.7 838Q308.9 815.1 319.1 801.9M302.3 840.7Q313.4 818 324.2 804.9M307 843.4Q317.4 820.4 327.2 806.6M311.6 846Q321.9 823.1 332.3 809.4M316.4 848.5Q326 825.3 335.4 811M321.2 850.9Q330.7 827.9 340.5 813.6M326 853.2Q334.9 830 343.7 815.1M330.8 855.5Q339.7 832.4 348.9 817.5M335.7 857.6Q343.9 834.3 352.1 819M340.7 859.7Q348.8 836.5 357.4 821.2M345.6 861.7Q353.1 838.3 360.7 822.5M350.7 863.7Q358 840.3 366 824.6M355.7 865.5Q362.4 842 369.4 825.8M360.8 867.2Q367.4 843.8 374.7 827.6M365.9 868.9Q371.9 845.3 378.2 828.7M371 870.5Q376.9 847 383.5 830.4M376.2 871.9Q381.5 848.3 387.1 831.4M381.4 873.3Q386.5 849.9 392.4 832.8M386.7 874.6Q391.1 851 396 833.7M391.9 875.8Q396.2 852.5 401.3 834.8M397.2 876.9Q400.9 853.5 405 835.6M402.6 877.9Q406 854.7 410.2 836.6M407.9 878.7Q410.8 855.5 414 837.2M413.3 879.5Q415.9 856.5 419.2 837.9M418.8 880.1Q420.7 857.1 423.1 838.4M424.2 880.7Q425.9 857.9 428.2 838.8M429.7 881.1Q430.8 858.2 432.1 839.1M435.1 881.3Q436 858.8 437.1 839.4M440.6 881.5Q440.9 858.9 441.2 839.5M446.2 881.5Q446.1 858.9 446.1 839.5M451.7 881.4Q451 858.8 450.1 839.4M457.2 881.1Q456.2 858.7 455 839.2M462.6 880.8Q461.1 858.4 459.1 838.9M468.1 880.3Q466.3 858.1 464 838.5M473.5 879.7Q471.2 857.6 468.2 838M478.8 878.9Q476.4 857.1 473.1 837.3M484.2 878.1Q481.3 856.3 477.3 836.7M489.4 877.2Q486.4 855.7 482.1 835.9M494.7 876.2Q491.3 854.8 486.5 835M499.9 875.2Q496.3 853.9 491.2 834.1M505.1 874Q501.2 852.8 495.6 833.1M510.3 872.7Q506.2 851.7 500.3 832M515.5 871.4Q511 850.5 504.7 830.8M520.7 870Q516 849.2 509.3 829.6M525.8 868.5Q520.8 847.8 513.7 828.3M530.9 866.9Q525.7 846.4 518.2 826.9M536 865.3Q530.5 844.8 522.6 825.5"/>
<path stroke="#555" stroke-width="1.7" d="M520.7 778.8 L523.3 777.8 L525.9 776.7 L528.5 775.7 L531.1 774.6 L533.7 773.5 L536.3 772.4 L538.8 771.2 L541.4 770.1 L543.9 768.9 L546.4 767.7 L548.9 766.4 L551.3 765.2 L553.8 763.9 L556.2 762.6 L558.7 761.2 L561.1 759.9 L563.4 758.5 L565.8 757 L568.1 755.6 L570.4 754.1 L572.7 752.6 L575 751.1 L577.2 749.6 L579.5 748 L581.7 746.4 L583.8 744.8 L586 743.1 L588.1 741.5 L590.2 739.7 L592.2 738 L594.2 736.2 L596.2 734.5 L598.2 732.6 L600.1 730.8 L602 728.9 L603.9 727 L605.7 725.1 L607.5 723.2 L609.3 721.2 L611 719.2 L612.7 717.1 L614.4 715.1 L616 713 L617.6 710.8 L619.2 708.7 L620.7 706.5 L622.3 704.2 L623.8 701.9 L625.3 699.6 L626.8 697.3 L628.2 694.9 L629.7 692.6 L631.1 690.1 L632.5 687.7 L633.9 685.3 L635.2 682.8 L636.5 680.4 L637.8 677.9 L639.1 675.4 L640.4 672.9 L641.6 670.4 L642.8 667.9 L643.9 665.4 L645.1 662.9 L646.1 660.4 L647.2 657.9 L648.2 655.3 L649.2 652.8 L650.2 650.2 L651.1 647.6 L652 645.1 L652.9 642.5 L653.7 639.9 L654.5 637.2 L655.3 634.6 L656 632 L656.7 629.3 L657.4 626.6 L658.1 624 L658.7 621.3 L659.2 618.6 L659.8 615.9 L660.3 613.2 L660.8 610.5 L661.3 607.7 L661.7 605 L662.1 602.3 L662.4 599.5 L662.8 596.8 L663.1 594 L663.4 591.3 L663.6 588.5 L663.8 585.7 L664 583 L664.2 580.2 L664.3 577.4 L664.4 574.6 L664.5 571.8 L664.5 569 L664.6 566.2 L664.5 563.4 L664.5 560.6 L664.5 557.8 L664.4 555 L664.3 552.2 L664.1 549.4 L664 546.6 L663.8 543.8 L663.6 541 L663.3 538.2 L663.1 535.4 L662.8 532.6 L662.5 529.8 L662.1 527 L661.8 524.2 L661.4 521.4 L661 518.6 L660.5 515.8 L660.1 513 L659.6 510.2 L659.1 507.4 L658.6 504.6 L658.1 501.8 L657.5 499 L656.9 496.3 L656.3 493.5 L655.7 490.7 L655 487.9 L654.4 485.2 L653.7 482.4 L653 479.7 L652.2 476.9 L651.5 474.2 L650.7 471.4 L649.9 468.7 L649.1 465.9 L648.3 463.2 L647.5 460.5 L646.6 457.8 L645.7 455.1 L644.8 452.4 L643.9 449.8 L642.9 447.1 L642 444.5 L641 441.9 L640 439.3 L638.9 436.7 L637.9 434.1 L636.8 431.6 L635.7 429.1 L634.5 426.6 L633.4 424.1 L632.2 421.6 L631 419.2 L629.7 416.8 L628.4 414.4 L627.1 412 L625.8 409.7 L624.4 407.4 L623 405.1 L621.6 402.8 L620.1 400.6 L618.6 398.4 L617.1 396.2 L615.5 394.1 L613.9 391.9 L612.3 389.8 L610.6 387.7 L608.9 385.6 L607.1 383.5 L605.3 381.4 L603.5 379.3 L601.6 377.2 L599.7 375.2 L597.8 373.1 L595.8 371.1 L593.8 369 L591.8 367 L589.8 364.9 L587.8 362.9 L585.7 360.9 L583.6 358.8 L581.5 356.8 L579.4 354.8 L577.4 352.8 L575.3 350.9 L573.2 348.9 L571.1 347 L569 345.1 L566.8 343.2 L564.7 341.4 L562.6 339.6 L560.4 337.8 L558.3 336 L556.1 334.3 L554 332.5 L551.8 330.9 L549.6 329.2 L547.4 327.6 L545.2 326.1 L542.9 324.5 L540.7 323.1 L538.5 321.6 L536.2 320.2 L533.9 318.9 L531.6 317.5 L529.3 316.3 L527 315.1 L524.7 313.9 L522.4 312.8 L520.1 311.7 L517.7 310.7 L515.3 309.7 L513 308.8 L510.6 308 L508.1 307.2 L505.7 306.4 L503.2 305.7 L500.7 305 L498.1 304.4 L495.5 303.8 L492.9 303.3 L490.3 302.7 L487.6 302.3 L485 301.8 L482.3 301.4 L479.6 301 L476.8 300.7 L474.1 300.4 L471.3 300.1 L468.6 299.8 L465.8 299.6 L463.1 299.4 L460.3 299.3 L457.6 299.1 L454.8 299 L452.1 299 L449.3 298.9 L446.5 298.9 L443.8 299 L441 299 L438.2 299.1 L435.5 299.2 L432.7 299.4 L429.9 299.6 L427.2 299.8 L424.4 300 L421.7 300.3 L418.9 300.6 L416.1 300.9 L413.4 301.3 L410.6 301.7 L407.9 302.1 L405.2 302.5 L402.4 303 L399.7 303.5 L397 304.1 L394.3 304.6 L391.5 305.2 L388.8 305.9 L386.1 306.5 L383.4 307.2 L380.8 307.9 L378.1 308.6 L375.4 309.4 L372.7 310.2 L370.1 311 L367.4 311.9 L364.8 312.7 L362.2 313.7 L359.5 314.6 L356.9 315.5 L354.3 316.5 L351.7 317.5 L349.2 318.6 L346.6 319.7 L344 320.7 L341.5 321.9 L339 323 L336.4 324.2 L333.9 325.4 L331.4 326.6 L329 327.9 L326.5 329.1 L324 330.5 L321.6 331.8 L319.2 333.1 L316.8 334.5 L314.4 335.9 L312 337.4 L309.6 338.8 L307.3 340.3 L304.9 341.8 L302.6 343.3 L300.3 344.9 L298.1 346.5 L295.8 348.1 L293.6 349.7 L291.3 351.3 L289.1 353 L286.9 354.7 L284.8 356.4 L282.6 358.2 L280.5 359.9 L278.4 361.7 L276.3 363.6 L274.2 365.4 L272.2 367.2 L270.2 369.1 L268.2 371 L266.2 373 L264.2 374.9 L262.3 376.9 L260.4 378.9 L258.5 380.9 L256.6 382.9 L254.8 385 L253 387 L251.2 389.1 L249.4 391.3 L247.7 393.4 L246 395.6 L244.3 397.7 L242.6 399.9 L241 402.2 L239.3 404.4 L237.7 406.7 L236.1 409 L234.6 411.3 L233.1 413.6 L231.5 415.9 L230.1 418.3 L228.6 420.6 L227.2 423 L225.7 425.4 L224.4 427.8 L223 430.3 L221.6 432.7 L220.3 435.2 L219 437.6 L217.7 440.1 L216.5 442.6 L215.3 445.1 L214.1 447.7 L212.9 450.2 L211.7 452.8 L210.6 455.3 L209.5 457.9 L208.4 460.5 L207.4 463.1 L206.3 465.7 L205.3 468.3 L204.4 470.9 L203.4 473.5 L202.5 476.1 L201.6 478.7 L200.8 481.4 L199.9 484 L199.1 486.6 L198.4 489.3 L197.7 491.9 L197 494.6 L196.3 497.3 L195.6 500 L195 502.7 L194.4 505.4 L193.9 508.1 L193.4 510.8 L192.9 513.6 L192.4 516.3 L192 519.1 L191.6 521.8 L191.2 524.6 L190.8 527.3 L190.5 530.1 L190.2 532.9 L189.9 535.7 L189.7 538.4 L189.5 541.2 L189.3 544 L189.1 546.8 L189 549.6 L188.8 552.4 L188.8 555.2 L188.7 558.1 L188.6 560.9 L188.6 563.7 L188.6 566.5 L188.7 569.3 L188.7 572.1 L188.8 574.9 L188.9 577.7 L189.1 580.5 L189.2 583.4 L189.4 586.2 L189.6 589 L189.9 591.8 L190.1 594.6 L190.4 597.4 L190.7 600.1 L191.1 602.9 L191.4 605.7 L191.8 608.5 L192.2 611.3 L192.7 614 L193.1 616.8 L193.6 619.6 L194.2 622.3 L194.7 625.1 L195.3 627.8 L195.9 630.5 L196.5 633.3 L197.1 636 L197.8 638.7 L198.5 641.4 L199.2 644.1 L200 646.8 L200.8 649.5 L201.6 652.2 L202.4 654.8 L203.2 657.5 L204.1 660.1 L205 662.8 L206 665.4 L206.9 668 L207.9 670.6 L208.9 673.2 L210 675.8 L211 678.3 L212.1 680.9 L213.3 683.4 L214.4 686 L215.6 688.5 L216.8 691 L218 693.5 L219.2 695.9 L220.5 698.4 L221.8 700.8 L223.2 703.3 L224.5 705.7 L225.9 708.1 L227.3 710.4 L228.8 712.8 L230.2 715.2 L231.7 717.5 L233.2 719.8 L234.8 722.1 L236.3 724.4 L237.9 726.7 L239.6 728.9 L241.2 731.2 L242.9 733.4 L244.6 735.6 L246.3 737.8 L248 739.9 L249.8 742.1 L251.6 744.2 L253.4 746.3 L255.2 748.4 L257 750.5 L258.9 752.6 L260.8 754.6 L262.7 756.6 L264.7 758.6 L266.6 760.6 L268.6 762.6 L270.6 764.5 L272.6 766.4 L274.7 768.3 L276.7 770.2 L278.8 772.1 L280.9 773.9 L283 775.7 L285.1 777.5 L287.3 779.3 L289.5 781.1 L291.6 782.8 L293.8 784.5 L296.1 786.2 L298.3 787.9 L300.6 789.5 L302.8 791.1 L305.1 792.7 L307.4 794.3 L309.7 795.9 L312.1 797.4 L314.4 798.9 L316.8 800.4 L319.1 801.9 L321.5 803.3 L323.9 804.7 L326.4 806.1 L328.8 807.5 L331.2 808.8 L333.7 810.1 L336.2 811.4 L338.7 812.7 L341.2 813.9 L343.7 815.1 L346.2 816.3 L348.7 817.5 L351.3 818.6 L353.8 819.7 L356.4 820.8 L358.9 821.8 L361.5 822.9 L364.1 823.9 L366.7 824.8 L369.3 825.8 L372 826.7 L374.6 827.6 L377.2 828.4 L379.9 829.3 L382.5 830.1 L385.2 830.8 L387.9 831.6 L390.6 832.3 L393.2 833 L395.9 833.6 L398.6 834.2 L401.3 834.8 L404 835.4 L406.7 835.9 L409.4 836.4 L412.1 836.9 L414.8 837.3 L417.5 837.7 L420.2 838 L422.9 838.3 L425.6 838.6 L428.3 838.9 L431 839.1 L433.7 839.2 L436.4 839.4 L439.1 839.5 L441.8 839.5 L444.5 839.5 L447.2 839.5 L449.9 839.4 L452.6 839.3 L455.3 839.2 L458 839 L460.7 838.8 L463.4 838.5 L466.1 838.2 L468.9 837.9 L471.6 837.5 L474.3 837.2 L477.1 836.7 L479.8 836.3 L482.5 835.8 L485.3 835.3 L488 834.7 L490.8 834.2 L493.5 833.6 L496.2 832.9 L498.9 832.3 L501.7 831.6 L504.4 830.9 L507.1 830.2 L509.8 829.4 L512.4 828.7 L515.1 827.9 L517.8 827 L520.4 826.2 L523.1 825.3 L524.9 824.7"/>
<path stroke="#555" stroke-width="1.7" d="M535.6 818 L538.6 816.9 L541.5 815.7 L544.5 814.5 L547.4 813.3 L550.4 812.1 L553.3 810.8 L556.2 809.5 L559.1 808.1 L562 806.8 L564.9 805.3 L567.8 803.9 L570.7 802.4 L573.5 800.9 L576.4 799.4 L579.2 797.8 L582 796.2 L584.8 794.6 L587.6 792.9 L590.4 791.2 L593.1 789.5 L595.9 787.7 L598.6 785.9 L601.3 784 L604 782.1 L606.6 780.2 L609.3 778.2 L611.9 776.2 L614.4 774.1 L617 772 L619.5 769.9 L622 767.7 L624.5 765.5 L627 763.3 L629.4 761 L631.7 758.6 L634.1 756.2 L636.4 753.8 L638.6 751.4 L640.9 748.9 L643.1 746.3 L645.2 743.7 L647.3 741.1 L649.4 738.5 L651.4 735.8 L653.3 733.1 L655.2 730.4 L657.1 727.7 L658.9 725 L660.7 722.3 L662.4 719.6 L664.1 716.8 L665.7 714.1 L667.4 711.3 L669 708.5 L670.5 705.8 L672.1 703 L673.6 700.1 L675.1 697.3 L676.6 694.4 L678 691.6 L679.4 688.7 L680.8 685.7 L682.2 682.8 L683.5 679.8 L684.8 676.9 L686 673.9 L687.3 670.8 L688.5 667.8 L689.6 664.7 L690.7 661.7 L691.8 658.6 L692.8 655.5 L693.8 652.4 L694.8 649.3 L695.7 646.1 L696.6 643 L697.4 639.9 L698.2 636.7 L698.9 633.5 L699.7 630.4 L700.4 627.2 L701 624 L701.6 620.8 L702.2 617.6 L702.7 614.4 L703.2 611.3 L703.7 608.1 L704.1 604.8 L704.5 601.6 L704.8 598.4 L705.2 595.2 L705.5 592 L705.7 588.8 L705.9 585.6 L706.1 582.4 L706.3 579.2 L706.4 576 L706.5 572.8 L706.5 569.6 L706.6 566.3 L706.5 563.1 L706.5 559.9 L706.4 556.7 L706.3 553.6 L706.2 550.4 L706.1 547.2 L705.9 544 L705.7 540.8 L705.4 537.6 L705.2 534.5 L704.9 531.3 L704.5 528.1 L704.2 525 L703.8 521.8 L703.4 518.7 L703 515.5 L702.5 512.4 L702 509.2 L701.5 506.1 L701 503 L700.4 499.9 L699.9 496.8 L699.3 493.7 L698.6 490.6 L698 487.5 L697.3 484.4 L696.6 481.3 L695.9 478.2 L695.2 475.2 L694.4 472.1 L693.6 469.1 L692.8 466 L692 463 L691.1 459.9 L690.3 456.9 L689.4 453.9 L688.4 450.9 L687.5 447.9 L686.5 444.9 L685.6 441.8 L684.5 438.8 L683.5 435.8 L682.4 432.8 L681.3 429.8 L680.2 426.8 L679 423.8 L677.8 420.8 L676.6 417.9 L675.3 414.9 L674 411.9 L672.7 409 L671.3 406 L669.8 403.1 L668.4 400.1 L666.9 397.2 L665.3 394.3 L663.7 391.4 L662.1 388.6 L660.4 385.7 L658.7 382.9 L656.9 380.1 L655.1 377.3 L653.2 374.5 L651.3 371.8 L649.3 369.1 L647.3 366.4 L645.3 363.8 L643.2 361.2 L641.1 358.7 L639 356.2 L636.9 353.8 L634.8 351.3 L632.6 349 L630.5 346.6 L628.3 344.3 L626.1 342 L623.9 339.7 L621.7 337.5 L619.5 335.3 L617.3 333.1 L615.1 330.9 L612.9 328.7 L610.7 326.6 L608.4 324.4 L606.2 322.3 L603.9 320.1 L601.6 318 L599.3 315.9 L596.9 313.8 L594.5 311.7 L592.1 309.6 L589.7 307.5 L587.3 305.4 L584.8 303.4 L582.3 301.4 L579.7 299.4 L577.1 297.4 L574.5 295.4 L571.9 293.5 L569.2 291.6 L566.5 289.7 L563.7 287.9 L560.9 286.1 L558.1 284.3 L555.2 282.6 L552.3 280.9 L549.3 279.3 L546.3 277.7 L543.3 276.2 L540.2 274.7 L537.1 273.3 L533.9 271.9 L530.7 270.6 L527.5 269.4 L524.2 268.3 L520.9 267.2 L517.7 266.2 L514.4 265.2 L511.1 264.4 L507.8 263.6 L504.6 262.8 L501.3 262.1 L498.1 261.5 L494.8 260.9 L491.6 260.3 L488.3 259.8 L485.1 259.4 L481.9 259 L478.7 258.6 L475.4 258.3 L472.2 258 L469 257.7 L465.7 257.5 L462.5 257.3 L459.3 257.2 L456 257.1 L452.8 257 L449.6 256.9 L446.3 256.9 L443.1 257 L439.9 257 L436.6 257.1 L433.4 257.3 L430.2 257.5 L427 257.7 L423.7 257.9 L420.5 258.2 L417.3 258.5 L414.1 258.9 L410.9 259.3 L407.7 259.7 L404.5 260.1 L401.3 260.6 L398.1 261.1 L395 261.7 L391.8 262.3 L388.6 262.9 L385.5 263.6 L382.3 264.3 L379.2 265 L376.1 265.7 L372.9 266.5 L369.8 267.4 L366.7 268.2 L363.6 269.1 L360.5 270 L357.5 271 L354.4 271.9 L351.3 273 L348.3 274 L345.3 275.1 L342.2 276.2 L339.2 277.3 L336.2 278.5 L333.2 279.7 L330.3 281 L327.3 282.2 L324.4 283.5 L321.4 284.9 L318.5 286.2 L315.6 287.6 L312.7 289 L309.8 290.5 L307 292 L304.1 293.5 L301.3 295 L298.5 296.6 L295.7 298.2 L292.9 299.8 L290.2 301.5 L287.4 303.2 L284.7 304.9 L282 306.6 L279.3 308.4 L276.6 310.2 L274 312.1 L271.3 313.9 L268.7 315.8 L266.1 317.7 L263.5 319.7 L261 321.7 L258.5 323.7 L256 325.7 L253.5 327.8 L251 329.9 L248.6 332 L246.1 334.2 L243.8 336.3 L241.4 338.5 L239 340.8 L236.7 343 L234.4 345.3 L232.1 347.6 L229.9 350 L227.7 352.3 L225.5 354.7 L223.3 357.2 L221.2 359.6 L219.1 362.1 L217 364.6 L215 367.1 L213 369.6 L211 372.2 L209 374.7 L207.1 377.3 L205.2 379.9 L203.3 382.6 L201.5 385.2 L199.7 387.9 L197.9 390.6 L196.2 393.3 L194.4 396 L192.8 398.7 L191.1 401.5 L189.5 404.3 L187.9 407 L186.3 409.8 L184.7 412.7 L183.2 415.5 L181.7 418.3 L180.3 421.2 L178.8 424 L177.4 426.9 L176.1 429.8 L174.7 432.7 L173.4 435.6 L172.1 438.6 L170.8 441.5 L169.6 444.4 L168.4 447.4 L167.2 450.4 L166.1 453.4 L164.9 456.4 L163.8 459.4 L162.8 462.5 L161.7 465.5 L160.7 468.6 L159.8 471.7 L158.8 474.8 L158 477.9 L157.1 481.1 L156.3 484.2 L155.5 487.3 L154.7 490.5 L154 493.6 L153.3 496.8 L152.7 500 L152.1 503.1 L151.5 506.3 L151 509.5 L150.5 512.6 L150 515.8 L149.5 519 L149.1 522.2 L148.8 525.4 L148.4 528.6 L148.1 531.8 L147.8 535 L147.6 538.1 L147.3 541.3 L147.2 544.5 L147 547.7 L146.9 550.9 L146.8 554.1 L146.7 557.3 L146.7 560.5 L146.6 563.7 L146.6 566.8 L146.7 570 L146.8 573.2 L146.9 576.4 L147 579.6 L147.1 582.8 L147.3 586 L147.5 589.1 L147.8 592.3 L148 595.5 L148.3 598.7 L148.7 601.8 L149 605 L149.4 608.2 L149.8 611.4 L150.3 614.5 L150.7 617.7 L151.2 620.8 L151.8 624 L152.3 627.1 L152.9 630.3 L153.5 633.4 L154.2 636.5 L154.9 639.7 L155.6 642.8 L156.3 645.9 L157.1 649 L157.9 652.1 L158.7 655.2 L159.6 658.3 L160.5 661.4 L161.4 664.5 L162.4 667.5 L163.3 670.6 L164.4 673.6 L165.4 676.7 L166.5 679.7 L167.6 682.7 L168.7 685.7 L169.9 688.7 L171.1 691.7 L172.3 694.7 L173.6 697.6 L174.9 700.6 L176.2 703.5 L177.6 706.4 L179 709.3 L180.4 712.2 L181.9 715.1 L183.4 718 L184.9 720.8 L186.5 723.7 L188 726.5 L189.7 729.3 L191.3 732.1 L193 734.8 L194.7 737.6 L196.4 740.3 L198.2 743 L200 745.7 L201.8 748.3 L203.7 751 L205.6 753.6 L207.5 756.2 L209.4 758.8 L211.4 761.3 L213.4 763.9 L215.4 766.4 L217.4 768.9 L219.5 771.3 L221.6 773.8 L223.7 776.2 L225.8 778.6 L228 781 L230.2 783.3 L232.4 785.7 L234.6 788 L236.9 790.3 L239.2 792.5 L241.5 794.8 L243.8 797 L246.2 799.2 L248.5 801.4 L250.9 803.5 L253.3 805.6 L255.8 807.7 L258.2 809.8 L260.7 811.8 L263.2 813.8 L265.7 815.8 L268.2 817.8 L270.8 819.8 L273.4 821.7 L276 823.6 L278.6 825.4 L281.2 827.3 L283.8 829.1 L286.5 830.9 L289.2 832.6 L291.9 834.4 L294.6 836.1 L297.3 837.8 L300.1 839.4 L302.9 841 L305.7 842.6 L308.5 844.2 L311.3 845.7 L314.1 847.3 L317 848.7 L319.8 850.2 L322.7 851.6 L325.6 853 L328.5 854.4 L331.4 855.7 L334.4 857 L337.3 858.3 L340.3 859.6 L343.3 860.8 L346.2 862 L349.3 863.1 L352.3 864.3 L355.3 865.3 L358.3 866.4 L361.4 867.4 L364.5 868.4 L367.5 869.4 L370.6 870.3 L373.7 871.2 L376.8 872.1 L380 872.9 L383.1 873.7 L386.2 874.5 L389.4 875.2 L392.6 875.9 L395.7 876.6 L398.9 877.2 L402.1 877.8 L405.4 878.3 L408.6 878.8 L411.8 879.3 L415.1 879.7 L418.3 880.1 L421.6 880.4 L424.9 880.7 L428.1 881 L431.4 881.2 L434.7 881.3 L438 881.4 L441.3 881.5 L444.6 881.5 L447.9 881.5 L451.2 881.4 L454.5 881.3 L457.8 881.1 L461.1 880.9 L464.4 880.6 L467.6 880.3 L470.9 880 L474.1 879.6 L477.3 879.2 L480.5 878.7 L483.7 878.2 L486.9 877.7 L490.1 877.1 L493.2 876.5 L496.4 875.9 L499.5 875.2 L502.6 874.6 L505.8 873.8 L508.9 873.1 L512 872.3 L515.1 871.5 L518.2 870.7 L521.3 869.8 L524.4 868.9 L527.4 868 L530.5 867.1 L533.5 866.1 L536.6 865.1 L538.6 864.4"/>
<path fill="#fff" stroke="none" d="M524.9 824.7 L527.5 823.7 L530.1 822.8 L532.7 821.8 L535.3 820.8 L537.9 819.8 L540.5 818.7 L543.1 817.6 L545.7 816.5 L548.2 815.4 L550.8 814.3 L553.3 813.1 L555.8 811.9 L558.4 810.6 L560.9 809.4 L563.3 808.1 L565.8 806.8 L568.3 805.5 L570.7 804.1 L573.2 802.8 L575.6 801.4 L578 800 L580.3 798.5 L582.7 797.1 L585 795.6 L587.4 794.1 L589.7 792.5 L592 791 L594.2 789.4 L596.5 787.8 L598.7 786.1 L600.9 784.5 L603.1 782.8 L605.3 781.1 L607.4 779.4 L609.6 777.6 L611.7 775.9 L613.7 774.1 L615.8 772.3 L617.8 770.4 L619.8 768.6 L621.8 766.7 L623.8 764.8 L625.7 762.8 L627.6 760.9 L629.4 758.9 L631.3 756.9 L633.1 754.9 L634.9 752.8 L636.6 750.7 L638.4 748.6 L640.1 746.5 L641.8 744.3 L643.5 742.1 L645.2 739.9 L646.9 737.6 L648.5 735.3 L650.2 733 L651.8 730.7 L653.4 728.3 L655 726 L656.6 723.6 L658.2 721.2 L659.8 718.8 L661.3 716.4 L662.9 714 L664.4 711.6 L665.9 709.1 L667.4 706.7 L668.8 704.2 L670.3 701.8 L671.7 699.3 L673.1 696.8 L674.5 694.3 L675.9 691.8 L677.2 689.3 L678.6 686.8 L679.9 684.3 L681.2 681.8 L682.4 679.2 L683.7 676.7 L684.9 674.1 L686.1 671.6 L687.3 669 L688.5 666.4 L689.7 663.8 L690.8 661.2 L691.9 658.6 L693 656 L694.1 653.4 L695.1 650.8 L696.1 648.1 L697.1 645.5 L698.1 642.8 L699.1 640.2 L700 637.5 L700.9 634.8 L701.8 632.1 L702.7 629.5 L703.6 626.8 L704.4 624 L705.2 621.3 L706 618.6 L706.7 615.9 L707.5 613.2 L708.2 610.4 L708.9 607.7 L709.6 604.9 L710.2 602.2 L710.8 599.4 L711.4 596.7 L712 593.9 L712.6 591.1 L713.1 588.4 L713.6 585.6 L714.1 582.8 L714.6 580 L715 577.2 L715.5 574.4 L715.8 571.6 L716.2 568.8 L716.6 566 L716.9 563.2 L717.2 560.4 L717.5 557.6 L717.7 554.8 L717.9 552 L718.2 549.2 L718.3 546.4 L718.5 543.6 L718.6 540.8 L718.7 537.9 L718.8 535.1 L718.9 532.3 L718.9 529.5 L718.9 526.7 L718.9 523.9 L718.8 521.1 L718.8 518.3 L718.7 516.9 L760.7 515.5 L760.8 517 L760.8 520.2 L760.9 523.4 L760.9 526.6 L760.9 529.8 L760.9 533 L760.8 536.2 L760.7 539.3 L760.6 542.5 L760.4 545.7 L760.3 548.9 L760.1 552.1 L759.8 555.2 L759.6 558.4 L759.3 561.6 L759 564.7 L758.6 567.9 L758.3 571 L757.9 574.2 L757.5 577.3 L757 580.5 L756.5 583.6 L756 586.8 L755.5 589.9 L755 593 L754.4 596.1 L753.8 599.3 L753.2 602.4 L752.5 605.5 L751.8 608.6 L751.1 611.7 L750.4 614.8 L749.6 617.8 L748.9 620.9 L748.1 624 L747.2 627 L746.4 630.1 L745.5 633.1 L744.6 636.2 L743.7 639.2 L742.7 642.2 L741.7 645.3 L740.7 648.3 L739.7 651.3 L738.7 654.3 L737.6 657.2 L736.5 660.2 L735.3 663.2 L734.2 666.1 L733 669.1 L731.8 672 L730.6 674.9 L729.4 677.9 L728.1 680.8 L726.8 683.7 L725.5 686.5 L724.2 689.4 L722.8 692.3 L721.4 695.1 L720 697.9 L718.6 700.8 L717.2 703.6 L715.7 706.4 L714.2 709.2 L712.7 711.9 L711.2 714.7 L709.7 717.5 L708.1 720.2 L706.6 722.9 L705 725.6 L703.4 728.3 L701.7 731 L700.1 733.7 L698.4 736.4 L696.7 739 L695 741.7 L693.3 744.3 L691.6 746.9 L689.8 749.5 L688.1 752.1 L686.3 754.7 L684.5 757.3 L682.6 759.8 L680.8 762.4 L678.9 765 L676.9 767.5 L675 770.1 L673 772.6 L670.9 775.1 L668.9 777.7 L666.7 780.2 L664.6 782.6 L662.4 785.1 L660.2 787.5 L657.9 789.9 L655.7 792.2 L653.3 794.6 L651 796.8 L648.6 799.1 L646.3 801.3 L643.8 803.5 L641.4 805.7 L638.9 807.8 L636.5 809.9 L633.9 812 L631.4 814 L628.9 816 L626.3 818 L623.7 819.9 L621.1 821.8 L618.4 823.7 L615.8 825.6 L613.1 827.4 L610.4 829.2 L607.7 830.9 L605 832.6 L602.3 834.3 L599.5 836 L596.8 837.6 L594 839.3 L591.2 840.8 L588.4 842.4 L585.5 843.9 L582.7 845.4 L579.9 846.9 L577 848.3 L574.1 849.7 L571.2 851.1 L568.3 852.4 L565.4 853.7 L562.5 855 L559.5 856.3 L556.6 857.5 L553.6 858.8 L550.6 859.9 L547.6 861.1 L544.6 862.2 L541.6 863.3 L538.6 864.4Z"/>
<path stroke="#727272" stroke-width="1.8" d="M541 863.5Q535.3 843.3 527 823.9M546 861.7Q540.1 841.5 531.3 822.3M551 859.8Q544.8 839.7 535.7 820.7M556 857.8Q549.5 837.8 540 818.9M560.9 855.7Q554.1 835.8 544.3 817.1M565.8 853.6Q558.8 833.7 548.6 815.3M570.6 851.3Q563.3 831.6 552.8 813.3M575.5 849Q567.9 829.4 557 811.3M580.2 846.7Q572.4 827.1 561.2 809.2M585 844.2Q576.9 824.7 565.3 807.1M589.7 841.7Q581.3 822.3 569.4 804.9M594.3 839Q585.7 819.8 573.5 802.6M599 836.3Q590.1 817.2 577.5 800.3M603.6 833.6Q594.4 814.5 581.4 797.8M608.1 830.7Q598.6 811.8 585.4 795.4M612.6 827.7Q602.9 809 589.2 792.8M617 824.7Q607 806.1 593 790.2M621.4 821.6Q611.1 803.1 596.8 787.6M625.8 818.4Q615.2 800.1 600.5 784.8M630.1 815.1Q619.1 797 604.1 782M634.3 811.7Q623.1 793.8 607.7 779.2M638.4 808.2Q626.9 790.5 611.3 776.2M642.5 804.7Q630.7 787.1 614.7 773.2M646.6 801Q634.4 783.7 618.1 770.2M650.5 797.3Q638.1 780.2 621.4 767M654.4 793.5Q641.6 776.6 624.7 763.9M658.2 789.6Q645.1 772.9 627.8 760.6M662 785.6Q648.5 769.1 630.9 757.3M665.6 781.5Q651.8 765.3 633.9 753.9M669.1 777.3Q655.1 761.4 636.9 750.4M672.6 773.1Q658.2 757.4 639.8 746.9M675.9 768.9Q661.3 753.4 642.6 743.3M679.1 764.6Q664.3 749.4 645.4 739.6M682.2 760.3Q667.2 745.3 648.2 735.8M685.3 756.1Q670.1 741.2 650.9 731.9M688.3 751.7Q672.9 737 653.6 728M691.2 747.4Q675.7 732.8 656.3 724.1M694.1 743.1Q678.5 728.6 659 720.1M696.9 738.7Q681.2 724.4 661.5 716.1M699.7 734.2Q683.8 720.1 664.1 712M702.5 729.8Q686.4 715.8 666.6 708M705.2 725.3Q688.9 711.5 669 703.9M707.8 720.7Q691.4 707.1 671.4 699.8M710.4 716.2Q693.9 702.7 673.8 695.7M712.9 711.6Q696.3 698.3 676.1 691.5M715.4 706.9Q698.6 693.8 678.3 687.3M717.9 702.3Q700.9 689.4 680.5 683.1M720.2 697.6Q703.1 684.9 682.6 678.9M722.5 692.8Q705.3 680.3 684.7 674.6M724.8 688.1Q707.4 675.8 686.7 670.4M727 683.3Q709.4 671.2 688.7 666.1M729.1 678.4Q711.4 666.6 690.6 661.8M731.2 673.6Q713.3 661.9 692.4 657.4M733.2 668.7Q715.2 657.3 694.2 653M735.1 663.8Q716.9 652.6 695.9 648.7M737 658.8Q718.7 647.8 697.6 644.2M738.8 653.9Q720.3 643.1 699.2 639.8M740.5 648.9Q721.9 638.4 700.8 635.4M742.2 643.9Q723.5 633.6 702.2 630.9M743.8 638.8Q724.9 628.8 703.7 626.4M745.3 633.8Q726.3 624 705 621.9M746.8 628.7Q727.6 619.1 706.3 617.3M748.2 623.6Q728.9 614.3 707.6 612.8M749.5 618.5Q730.1 609.4 708.8 608.2M750.7 613.3Q731.2 604.5 709.9 603.7M751.9 608.2Q732.3 599.6 710.9 599.1M753 603Q733.3 594.7 711.9 594.5M754.1 597.8Q734.2 589.8 712.8 589.8M755 592.6Q735.1 584.8 713.7 585.2M755.9 587.4Q735.9 579.9 714.5 580.6M756.8 582.2Q736.6 574.9 715.2 575.9M757.5 576.9Q737.3 570 715.9 571.3M758.2 571.7Q737.8 565 716.5 566.6M758.8 566.4Q738.4 560 717 561.9M759.3 561.1Q738.8 555 717.5 557.2M759.8 555.9Q739.2 550 717.9 552.6M760.2 550.6Q739.5 545 718.2 547.9M760.5 545.3Q739.7 540 718.5 543.2M760.7 540Q739.8 535 718.7 538.5M760.8 534.7Q739.9 530 718.8 533.8M760.9 529.4Q739.9 525 718.9 529.1M760.9 524Q739.8 520 718.9 524.4"/>
<path stroke="#555" stroke-width="1.7" d="M524.9 824.7 L527.5 823.7 L530.1 822.8 L532.7 821.8 L535.3 820.8 L537.9 819.8 L540.5 818.7 L543.1 817.6 L545.7 816.5 L548.2 815.4 L550.8 814.3 L553.3 813.1 L555.8 811.9 L558.4 810.6 L560.9 809.4 L563.3 808.1 L565.8 806.8 L568.3 805.5 L570.7 804.1 L573.2 802.8 L575.6 801.4 L578 800 L580.3 798.5 L582.7 797.1 L585 795.6 L587.4 794.1 L589.7 792.5 L592 791 L594.2 789.4 L596.5 787.8 L598.7 786.1 L600.9 784.5 L603.1 782.8 L605.3 781.1 L607.4 779.4 L609.6 777.6 L611.7 775.9 L613.7 774.1 L615.8 772.3 L617.8 770.4 L619.8 768.6 L621.8 766.7 L623.8 764.8 L625.7 762.8 L627.6 760.9 L629.4 758.9 L631.3 756.9 L633.1 754.9 L634.9 752.8 L636.6 750.7 L638.4 748.6 L640.1 746.5 L641.8 744.3 L643.5 742.1 L645.2 739.9 L646.9 737.6 L648.5 735.3 L650.2 733 L651.8 730.7 L653.4 728.3 L655 726 L656.6 723.6 L658.2 721.2 L659.8 718.8 L661.3 716.4 L662.9 714 L664.4 711.6 L665.9 709.1 L667.4 706.7 L668.8 704.2 L670.3 701.8 L671.7 699.3 L673.1 696.8 L674.5 694.3 L675.9 691.8 L677.2 689.3 L678.6 686.8 L679.9 684.3 L681.2 681.8 L682.4 679.2 L683.7 676.7 L684.9 674.1 L686.1 671.6 L687.3 669 L688.5 666.4 L689.7 663.8 L690.8 661.2 L691.9 658.6 L693 656 L694.1 653.4 L695.1 650.8 L696.1 648.1 L697.1 645.5 L698.1 642.8 L699.1 640.2 L700 637.5 L700.9 634.8 L701.8 632.1 L702.7 629.5 L703.6 626.8 L704.4 624 L705.2 621.3 L706 618.6 L706.7 615.9 L707.5 613.2 L708.2 610.4 L708.9 607.7 L709.6 604.9 L710.2 602.2 L710.8 599.4 L711.4 596.7 L712 593.9 L712.6 591.1 L713.1 588.4 L713.6 585.6 L714.1 582.8 L714.6 580 L715 577.2 L715.5 574.4 L715.8 571.6 L716.2 568.8 L716.6 566 L716.9 563.2 L717.2 560.4 L717.5 557.6 L717.7 554.8 L717.9 552 L718.2 549.2 L718.3 546.4 L718.5 543.6 L718.6 540.8 L718.7 537.9 L718.8 535.1 L718.9 532.3 L718.9 529.5 L718.9 526.7 L718.9 523.9 L718.8 521.1 L718.8 518.3 L718.7 516.9"/>
<path stroke="#555" stroke-width="1.7" d="M538.6 864.4 L541.6 863.3 L544.6 862.2 L547.6 861.1 L550.6 859.9 L553.6 858.8 L556.6 857.5 L559.5 856.3 L562.5 855 L565.4 853.7 L568.3 852.4 L571.2 851.1 L574.1 849.7 L577 848.3 L579.9 846.9 L582.7 845.4 L585.5 843.9 L588.4 842.4 L591.2 840.8 L594 839.3 L596.8 837.6 L599.5 836 L602.3 834.3 L605 832.6 L607.7 830.9 L610.4 829.2 L613.1 827.4 L615.8 825.6 L618.4 823.7 L621.1 821.8 L623.7 819.9 L626.3 818 L628.9 816 L631.4 814 L633.9 812 L636.5 809.9 L638.9 807.8 L641.4 805.7 L643.8 803.5 L646.3 801.3 L648.6 799.1 L651 796.8 L653.3 794.6 L655.7 792.2 L657.9 789.9 L660.2 787.5 L662.4 785.1 L664.6 782.6 L666.7 780.2 L668.9 777.7 L670.9 775.1 L673 772.6 L675 770.1 L676.9 767.5 L678.9 765 L680.8 762.4 L682.6 759.8 L684.5 757.3 L686.3 754.7 L688.1 752.1 L689.8 749.5 L691.6 746.9 L693.3 744.3 L695 741.7 L696.7 739 L698.4 736.4 L700.1 733.7 L701.7 731 L703.4 728.3 L705 725.6 L706.6 722.9 L708.1 720.2 L709.7 717.5 L711.2 714.7 L712.7 711.9 L714.2 709.2 L715.7 706.4 L717.2 703.6 L718.6 700.8 L720 697.9 L721.4 695.1 L722.8 692.3 L724.2 689.4 L725.5 686.5 L726.8 683.7 L728.1 680.8 L729.4 677.9 L730.6 674.9 L731.8 672 L733 669.1 L734.2 666.1 L735.3 663.2 L736.5 660.2 L737.6 657.2 L738.7 654.3 L739.7 651.3 L740.7 648.3 L741.7 645.3 L742.7 642.2 L743.7 639.2 L744.6 636.2 L745.5 633.1 L746.4 630.1 L747.2 627 L748.1 624 L748.9 620.9 L749.6 617.8 L750.4 614.8 L751.1 611.7 L751.8 608.6 L752.5 605.5 L753.2 602.4 L753.8 599.3 L754.4 596.1 L755 593 L755.5 589.9 L756 586.8 L756.5 583.6 L757 580.5 L757.5 577.3 L757.9 574.2 L758.3 571 L758.6 567.9 L759 564.7 L759.3 561.6 L759.6 558.4 L759.8 555.2 L760.1 552.1 L760.3 548.9 L760.4 545.7 L760.6 542.5 L760.7 539.3 L760.8 536.2 L760.9 533 L760.9 529.8 L760.9 526.6 L760.9 523.4 L760.8 520.2 L760.8 517 L760.7 515.5"/>
<path d="M497.1 687.9L522.8 721.1"/>

<g>
<!-- spray head -->
<path fill="#fff" d="M633.6 173.8 L767.5 186.8 Q770 187 769.8 189.5 L767.2 229 L741.4 227.8 Q739.6 227.8 739.5 229.6 L738.4 239 L725.5 238 L683.6 233.6 L626 228 L631.3 176 Q631.6 173.6 633.6 173.8"/>
<path d="M671.2 177.4 L666 231.8"/>
<!-- lower plate -->
<path fill="#fff" d="M725.8 238 L760 240.4 Q762.2 241 762.4 244 L762.6 251 Q764 260 773.2 280 L782 299.2 Q785 306.5 789 308.8 Q793.5 309 794.9 302.5 Q795.3 299.5 794.2 297 L788.6 277 L772.4 238.4 L767.2 229"/>
<path d="M739.5 229.8 L738.5 239.2"/>
<path d="M763.2 230 Q765 234 766.4 237 L785.5 278 L791.4 298.5 Q792.5 304 790.5 307.5"/>
<!-- handle -->
<path fill="#fff" d="M718.9 522 Q715 520.5 713.5 517 L707.2 486.4 L699.2 444 L686.8 360 L686.2 340 L683.8 312 L683.6 233.6 Q683.4 227 685.6 224.5 Q691 216.5 703.6 216 Q715 216.3 721 227 Q724 233 725.2 237.6 L734 264 L745.2 312 L747.5 340 L751 362 L757.6 404 L760.8 436 L763.2 480 L766.6 508 Q766.8 514.5 760.3 517 Q740 509 718.9 522Z"/>
<path d="M699.2 444 Q737 423.2 760.8 437.6"/>
<path d="M708 483.2 Q737 464.8 762.4 478.4"/>
<path d="M707.2 488 Q737 467 764 483"/>
<path d="M760.3 517 Q765.5 519.5 768.7 525 Q768 528.5 762 530.6 L761.2 535"/>
<path stroke="#686868" d="M717.4 527.5 Q740 515 765.5 522"/>
</g>


<g>
<path fill="#fff" d="M414.4 450.2 Q404 450.5 397 455.6 Q393.6 458.5 393.4 463 L389 626 A51 13 0 0 0 491 626 L491.8 466 Q491 461.5 488.2 459.2 Q481 452.5 470.2 451.4 L469.6 469 L469 481 L467.8 506 L471.4 512 L474.4 519.2 C466 528 452 533 442.6 533 C432 533.5 418 530 409.6 521.6 L410.2 516.8 L413.2 508.4 L416.8 503.6 L416.8 478.4 L418.6 455 L415.6 454.4 L415 453.8 Z"/>
<path d="M415 453.8 Q415 460 414.4 464 Q413.6 468 407.8 477.2 Q402 487 400.6 500 Q400.4 508 403 512 Q405.5 517 409.6 521.6"/>
<path d="M416.8 479 Q412 486 410 490.5 Q407 496.5 407.2 501 Q407 508 409.6 520.4"/>
<path d="M469.6 468.8 Q474 474.5 476.2 479.6 Q480 488 481.4 494 Q483 503 481 508.5 Q479 514 474.4 519.2"/>
<path d="M469 480.8 Q472 484.5 473.8 488 Q477 494 478.2 499 Q479.4 505 479.6 510"/>
<ellipse cx="440" cy="627.6" rx="51" ry="13.2" fill="#fff"/>
<ellipse cx="440" cy="627.9" rx="49.4" ry="12.2" stroke="#6a6a6a" stroke-width="1.3"/>
<ellipse cx="440" cy="627.6" rx="45.5" ry="10.4" stroke="#6a6a6a" stroke-width="1.4"/>
<g stroke-width="1.1" stroke="#777">
<rect x="425.8" y="619.4" width="29" height="6.8" rx="3.4"/>
<rect x="429.4" y="620.9" width="21.6" height="3.8" rx="1.9"/>
<rect x="424.2" y="629.6" width="30" height="7.4" rx="3.7"/>
<rect x="428" y="631.2" width="22.4" height="4.2" rx="2.1"/>
</g>
</g>

</g>

<g stroke="#444" stroke-width="1.7">
<path d="M632.6 158.6 L773.4 170.8 M633 147 L632 170 M774.2 160 L772.4 182.5"/>
<path d="M608.6 170 L606.2 223 M600 170 L619.6 170 M597 223 L617 223"/>
<path d="M772 187 L794.2 179.8 M783.4 184 L817.2 291.2 M806.8 295.2 L828.4 287.2"/>
<path d="M734.8 249.4 L758.2 245.4 M746.8 247.6 L771.2 423.2 M760 424.8 L782.4 422.4"/>
<path d="M373 447 L373 629.4 M362 447 L384 447 M361.7 629.4 L384.2 629.4"/>
<path d="M387.8 657.7 L493 657.7 M387.8 648.3 L387.8 664.5 M493 648.3 L493 664.5"/>
<path d="M378.8 717.2 L442.8 796.4 M396.4 754.8 L414 742 M434.8 803.6 L452.4 790.8"/>
</g>

<g style="opacity:0.999">
<text x="659.9" y="144.9" textLength="91.4" lengthAdjust="spacingAndGlyphs" font-size="30.5" transform="rotate(5.0 659.9 144.9)">60mm</text>
<text x="500.5" y="204" textLength="93" lengthAdjust="spacingAndGlyphs" font-size="30.5">22mm</text>
<text x="811.5" y="233.5" textLength="93.2" lengthAdjust="spacingAndGlyphs" font-size="30.5">52mm</text>
<text x="777.5" y="353.5" textLength="94" lengthAdjust="spacingAndGlyphs" font-size="30.5">86mm</text>
<text x="192.5" y="307.5" textLength="72.6" lengthAdjust="spacingAndGlyphs" font-size="30.5">1.2m</text>
<text x="297.5" y="548" textLength="64" lengthAdjust="spacingAndGlyphs" font-size="30.5">53m</text>
<text x="407.5" y="688" textLength="64.6" lengthAdjust="spacingAndGlyphs" font-size="30.5">32m</text>
<text x="330.4" y="704.2" textLength="72" lengthAdjust="spacingAndGlyphs" font-size="30.5" transform="rotate(52 330.4 704.2)">G1/2</text>
</g>
</svg>
</body></html>
